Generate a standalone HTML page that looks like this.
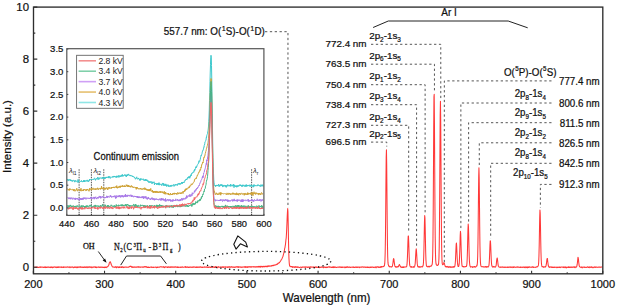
<!DOCTYPE html>
<html><head><meta charset="utf-8"><style>
html,body{margin:0;padding:0;background:#fff;}
body{width:617px;height:307px;overflow:hidden;font-family:"Liberation Sans",sans-serif;}
svg{display:block;}
</style></head><body>
<svg width="617" height="307" viewBox="0 0 617 307">
<rect x="0" y="0" width="617" height="307" fill="#fff"/>
<path d="M34.20,267.25 L34.45,267.09 L34.70,267.24 L34.95,267.26 L35.20,267.39 L35.45,267.24 L35.70,266.96 L35.95,267.11 L36.20,266.98 L36.45,267.14 L36.70,267.11 L36.95,267.16 L37.20,267.54 L37.45,267.02 L37.70,267.09 L37.95,267.09 L38.20,267.55 L38.45,267.56 L38.70,267.38 L38.95,267.29 L39.20,267.13 L39.45,267.20 L39.70,267.09 L39.95,267.33 L40.20,267.13 L40.45,267.11 L40.70,267.33 L40.95,266.84 L41.20,267.08 L41.45,266.94 L41.70,267.32 L41.95,267.35 L42.20,267.27 L42.45,267.22 L42.70,267.06 L42.95,267.14 L43.20,267.29 L43.45,267.39 L43.70,267.30 L43.95,266.94 L44.20,267.36 L44.45,267.14 L44.70,267.10 L44.95,267.50 L45.20,267.18 L45.45,266.92 L45.70,267.61 L45.95,267.26 L46.20,267.22 L46.45,267.36 L46.70,267.09 L46.95,267.21 L47.20,267.50 L47.45,267.02 L47.70,267.05 L47.95,267.00 L48.20,266.89 L48.45,267.12 L48.70,267.17 L48.95,267.46 L49.20,267.07 L49.45,267.32 L49.70,267.29 L49.95,267.46 L50.20,267.39 L50.45,267.30 L50.70,266.92 L50.95,267.62 L51.20,267.50 L51.45,267.14 L51.70,266.89 L51.95,267.07 L52.20,267.59 L52.45,267.72 L52.70,267.12 L52.95,267.35 L53.20,267.43 L53.45,266.99 L53.70,266.96 L53.95,267.16 L54.20,267.14 L54.45,267.10 L54.70,266.86 L54.95,267.06 L55.20,267.08 L55.45,267.08 L55.70,267.52 L55.95,266.93 L56.20,266.99 L56.45,267.08 L56.70,267.60 L56.95,267.32 L57.20,267.02 L57.45,267.57 L57.70,267.23 L57.95,266.98 L58.20,267.47 L58.45,266.86 L58.70,267.08 L58.95,267.22 L59.20,267.12 L59.45,267.06 L59.70,267.17 L59.95,266.95 L60.20,267.33 L60.45,267.28 L60.70,266.98 L60.95,267.19 L61.20,267.38 L61.45,267.00 L61.70,266.89 L61.95,267.28 L62.20,267.48 L62.45,267.22 L62.70,267.22 L62.95,267.25 L63.20,266.90 L63.45,267.41 L63.70,266.93 L63.95,267.46 L64.20,267.36 L64.45,267.06 L64.70,266.96 L64.95,267.01 L65.20,267.12 L65.45,267.16 L65.70,267.16 L65.95,267.07 L66.20,267.23 L66.45,267.13 L66.70,267.07 L66.95,267.19 L67.20,267.03 L67.45,267.07 L67.70,266.77 L67.95,267.12 L68.20,267.28 L68.45,267.27 L68.70,267.19 L68.95,267.00 L69.20,267.26 L69.45,267.11 L69.70,266.81 L69.95,267.73 L70.20,267.43 L70.45,267.14 L70.70,267.11 L70.95,267.14 L71.20,267.28 L71.45,267.06 L71.70,267.13 L71.95,267.30 L72.20,266.69 L72.45,267.12 L72.70,267.31 L72.95,267.21 L73.20,267.24 L73.45,267.20 L73.70,267.76 L73.95,267.29 L74.20,266.98 L74.45,267.43 L74.70,267.21 L74.95,266.99 L75.20,267.01 L75.45,266.88 L75.70,267.55 L75.95,267.26 L76.20,267.26 L76.45,267.06 L76.70,266.96 L76.95,267.75 L77.20,266.96 L77.45,267.49 L77.70,267.05 L77.95,267.50 L78.20,267.15 L78.45,266.94 L78.70,267.22 L78.95,267.15 L79.20,267.03 L79.45,267.16 L79.70,267.21 L79.95,266.87 L80.20,266.97 L80.45,267.25 L80.70,266.62 L80.95,267.43 L81.20,267.00 L81.45,267.25 L81.70,267.16 L81.95,267.04 L82.20,267.14 L82.45,267.06 L82.70,267.51 L82.95,267.50 L83.20,267.06 L83.45,267.39 L83.70,267.40 L83.95,267.50 L84.20,266.93 L84.45,267.04 L84.70,266.88 L84.95,267.39 L85.20,267.19 L85.45,267.43 L85.70,267.03 L85.95,266.86 L86.20,267.37 L86.45,266.86 L86.70,266.98 L86.95,267.23 L87.20,267.60 L87.45,266.90 L87.70,267.21 L87.95,267.31 L88.20,267.11 L88.45,267.10 L88.70,266.88 L88.95,267.40 L89.20,266.95 L89.45,266.88 L89.70,266.89 L89.95,267.23 L90.20,267.34 L90.45,266.98 L90.70,267.16 L90.95,267.16 L91.20,266.89 L91.45,267.24 L91.70,267.67 L91.95,267.27 L92.20,267.57 L92.45,267.02 L92.70,267.12 L92.95,267.31 L93.20,267.19 L93.45,267.01 L93.70,267.17 L93.95,266.91 L94.20,267.20 L94.45,266.97 L94.70,266.88 L94.95,266.85 L95.20,267.33 L95.45,267.00 L95.70,267.58 L95.95,267.41 L96.20,267.59 L96.45,266.96 L96.70,267.44 L96.95,267.19 L97.20,267.22 L97.45,267.19 L97.70,267.31 L97.95,267.13 L98.20,266.81 L98.45,267.17 L98.70,267.07 L98.95,266.97 L99.20,267.22 L99.45,267.44 L99.70,267.30 L99.95,266.96 L100.20,267.52 L100.45,267.30 L100.70,266.97 L100.95,267.01 L101.20,267.18 L101.45,267.01 L101.70,267.14 L101.95,267.42 L102.20,267.50 L102.45,267.31 L102.70,266.98 L102.95,267.29 L103.20,267.36 L103.45,267.33 L103.70,267.49 L103.95,267.19 L104.20,267.41 L104.45,267.09 L104.70,267.65 L104.95,267.09 L105.20,267.29 L105.45,267.55 L105.70,266.99 L105.95,267.20 L106.20,267.59 L106.45,267.30 L106.70,267.04 L106.95,267.16 L107.20,266.85 L107.45,266.76 L107.70,266.62 L107.95,266.46 L108.20,265.90 L108.45,265.56 L108.70,265.00 L108.95,264.82 L109.20,263.45 L109.45,262.65 L109.70,262.42 L109.95,262.13 L110.20,261.62 L110.45,262.69 L110.70,262.79 L110.95,263.09 L111.20,264.54 L111.45,264.91 L111.70,265.27 L111.95,266.18 L112.20,266.39 L112.45,266.56 L112.70,267.10 L112.95,267.03 L113.20,267.00 L113.45,266.93 L113.70,267.12 L113.95,267.17 L114.20,267.35 L114.45,267.22 L114.70,266.96 L114.95,267.13 L115.20,267.33 L115.45,267.33 L115.70,266.60 L115.95,266.92 L116.20,267.03 L116.45,267.70 L116.70,267.04 L116.95,267.07 L117.20,266.82 L117.45,267.08 L117.70,267.18 L117.95,267.06 L118.20,267.58 L118.45,266.96 L118.70,267.11 L118.95,267.32 L119.20,266.90 L119.45,266.80 L119.70,267.47 L119.95,267.31 L120.20,267.12 L120.45,267.14 L120.70,267.26 L120.95,267.38 L121.20,266.74 L121.45,266.96 L121.70,267.43 L121.95,267.46 L122.20,266.82 L122.45,266.97 L122.70,266.80 L122.95,267.01 L123.20,267.36 L123.45,267.12 L123.70,267.63 L123.95,267.33 L124.20,267.19 L124.45,267.07 L124.70,267.33 L124.95,267.20 L125.20,267.08 L125.45,267.10 L125.70,267.04 L125.95,267.13 L126.20,267.24 L126.45,267.01 L126.70,267.16 L126.95,267.34 L127.20,267.30 L127.45,267.17 L127.70,267.19 L127.95,267.12 L128.20,267.14 L128.45,267.07 L128.70,267.09 L128.95,267.24 L129.20,266.77 L129.45,266.48 L129.70,266.44 L129.95,266.39 L130.20,266.12 L130.45,266.35 L130.70,266.56 L130.95,266.26 L131.20,266.63 L131.45,266.46 L131.70,267.01 L131.95,267.47 L132.20,267.24 L132.45,266.76 L132.70,267.21 L132.95,267.43 L133.20,267.32 L133.45,267.06 L133.70,267.07 L133.95,267.13 L134.20,266.86 L134.45,267.03 L134.70,267.18 L134.95,267.05 L135.20,266.83 L135.45,266.98 L135.70,266.96 L135.95,267.40 L136.20,267.21 L136.45,267.03 L136.70,267.24 L136.95,266.96 L137.20,267.05 L137.45,266.99 L137.70,267.22 L137.95,266.65 L138.20,266.92 L138.45,267.22 L138.70,267.16 L138.95,266.64 L139.20,267.25 L139.45,267.00 L139.70,266.97 L139.95,267.18 L140.20,267.42 L140.45,267.14 L140.70,267.10 L140.95,266.94 L141.20,267.01 L141.45,267.17 L141.70,266.99 L141.95,267.06 L142.20,267.12 L142.45,267.14 L142.70,267.18 L142.95,266.96 L143.20,267.27 L143.45,267.10 L143.70,266.87 L143.95,267.07 L144.20,266.75 L144.45,266.99 L144.70,266.67 L144.95,266.43 L145.20,266.50 L145.45,266.73 L145.70,266.88 L145.95,267.23 L146.20,266.64 L146.45,266.98 L146.70,266.90 L146.95,267.33 L147.20,267.20 L147.45,267.55 L147.70,267.01 L147.95,266.98 L148.20,267.57 L148.45,267.18 L148.70,267.04 L148.95,267.54 L149.20,267.56 L149.45,267.40 L149.70,267.31 L149.95,267.47 L150.20,267.17 L150.45,267.12 L150.70,267.04 L150.95,267.03 L151.20,266.86 L151.45,266.93 L151.70,267.45 L151.95,267.28 L152.20,267.40 L152.45,267.40 L152.70,267.19 L152.95,267.18 L153.20,267.07 L153.45,267.51 L153.70,267.43 L153.95,267.18 L154.20,267.22 L154.45,267.24 L154.70,267.19 L154.95,267.33 L155.20,267.03 L155.45,267.10 L155.70,267.19 L155.95,267.31 L156.20,267.21 L156.45,267.74 L156.70,267.38 L156.95,267.17 L157.20,267.49 L157.45,267.13 L157.70,267.14 L157.95,267.46 L158.20,267.22 L158.45,267.23 L158.70,267.06 L158.95,267.02 L159.20,267.13 L159.45,267.27 L159.70,267.07 L159.95,266.99 L160.20,266.73 L160.45,266.74 L160.70,266.87 L160.95,266.95 L161.20,266.74 L161.45,266.85 L161.70,267.00 L161.95,266.88 L162.20,267.05 L162.45,267.00 L162.70,266.97 L162.95,267.20 L163.20,266.66 L163.45,267.22 L163.70,266.93 L163.95,267.14 L164.20,266.94 L164.45,267.66 L164.70,267.33 L164.95,267.12 L165.20,267.05 L165.45,266.68 L165.70,267.10 L165.95,266.90 L166.20,267.01 L166.45,266.97 L166.70,267.07 L166.95,267.20 L167.20,267.07 L167.45,267.40 L167.70,266.93 L167.95,267.38 L168.20,267.12 L168.45,266.73 L168.70,267.22 L168.95,267.17 L169.20,266.93 L169.45,267.17 L169.70,267.34 L169.95,267.12 L170.20,267.05 L170.45,267.02 L170.70,267.33 L170.95,266.81 L171.20,266.82 L171.45,267.17 L171.70,267.11 L171.95,267.26 L172.20,266.88 L172.45,267.32 L172.70,267.03 L172.95,267.27 L173.20,267.31 L173.45,267.02 L173.70,266.89 L173.95,267.17 L174.20,267.31 L174.45,267.00 L174.70,267.18 L174.95,267.10 L175.20,266.85 L175.45,266.93 L175.70,267.28 L175.95,266.69 L176.20,267.17 L176.45,267.00 L176.70,267.30 L176.95,267.18 L177.20,267.53 L177.45,266.80 L177.70,266.88 L177.95,267.42 L178.20,267.48 L178.45,267.50 L178.70,266.92 L178.95,267.26 L179.20,267.18 L179.45,267.23 L179.70,267.19 L179.95,267.39 L180.20,267.16 L180.45,267.47 L180.70,267.18 L180.95,267.10 L181.20,267.07 L181.45,267.21 L181.70,267.35 L181.95,267.13 L182.20,267.27 L182.45,266.84 L182.70,267.01 L182.95,267.19 L183.20,267.26 L183.45,267.31 L183.70,267.36 L183.95,267.24 L184.20,267.10 L184.45,267.06 L184.70,267.05 L184.95,266.73 L185.20,267.31 L185.45,267.16 L185.70,266.58 L185.95,267.55 L186.20,267.27 L186.45,267.13 L186.70,267.13 L186.95,267.08 L187.20,267.21 L187.45,267.09 L187.70,267.15 L187.95,267.00 L188.20,267.55 L188.45,267.34 L188.70,267.16 L188.95,267.38 L189.20,267.38 L189.45,267.03 L189.70,267.30 L189.95,267.03 L190.20,267.00 L190.45,267.10 L190.70,267.05 L190.95,267.18 L191.20,267.45 L191.45,267.16 L191.70,267.06 L191.95,267.27 L192.20,267.18 L192.45,267.00 L192.70,267.34 L192.95,267.02 L193.20,266.77 L193.45,267.27 L193.70,267.13 L193.95,267.19 L194.20,266.84 L194.45,267.09 L194.70,266.97 L194.95,267.30 L195.20,267.16 L195.45,267.16 L195.70,267.52 L195.95,266.85 L196.20,266.97 L196.45,267.52 L196.70,267.00 L196.95,267.18 L197.20,267.06 L197.45,267.08 L197.70,267.46 L197.95,267.20 L198.20,266.84 L198.45,267.27 L198.70,267.36 L198.95,267.43 L199.20,267.40 L199.45,267.08 L199.70,266.80 L199.95,267.06 L200.20,267.10 L200.45,266.68 L200.70,267.26 L200.95,267.29 L201.20,267.04 L201.45,267.03 L201.70,267.36 L201.95,267.39 L202.20,267.09 L202.45,267.10 L202.70,267.42 L202.95,267.19 L203.20,267.26 L203.45,267.05 L203.70,267.17 L203.95,267.16 L204.20,267.22 L204.45,266.93 L204.70,266.85 L204.95,267.22 L205.20,266.97 L205.45,267.30 L205.70,267.13 L205.95,266.99 L206.20,266.83 L206.45,267.22 L206.70,267.16 L206.95,267.10 L207.20,267.45 L207.45,267.14 L207.70,267.28 L207.95,267.06 L208.20,267.37 L208.45,267.55 L208.70,267.13 L208.95,267.08 L209.20,267.25 L209.45,266.95 L209.70,267.19 L209.95,267.26 L210.20,267.04 L210.45,267.46 L210.70,267.28 L210.95,267.14 L211.20,266.96 L211.45,267.17 L211.70,267.07 L211.95,267.27 L212.20,267.07 L212.45,266.79 L212.70,267.27 L212.95,266.64 L213.20,267.26 L213.45,267.13 L213.70,267.09 L213.95,266.92 L214.20,267.39 L214.45,267.57 L214.70,267.00 L214.95,266.96 L215.20,267.00 L215.45,266.58 L215.70,267.08 L215.95,267.07 L216.20,266.93 L216.45,267.05 L216.70,266.78 L216.95,267.38 L217.20,267.20 L217.45,267.84 L217.70,266.95 L217.95,267.20 L218.20,266.93 L218.45,266.67 L218.70,267.12 L218.95,267.17 L219.20,267.22 L219.45,267.29 L219.70,267.25 L219.95,266.98 L220.20,267.11 L220.45,267.10 L220.70,267.15 L220.95,266.92 L221.20,267.01 L221.45,267.14 L221.70,266.97 L221.95,267.14 L222.20,267.35 L222.45,266.81 L222.70,267.01 L222.95,267.31 L223.20,266.88 L223.45,267.03 L223.70,267.43 L223.95,266.77 L224.20,267.04 L224.45,266.92 L224.70,267.06 L224.95,267.13 L225.20,267.42 L225.45,266.90 L225.70,267.09 L225.95,267.16 L226.20,267.03 L226.45,267.08 L226.70,266.96 L226.95,267.17 L227.20,267.10 L227.45,267.54 L227.70,267.18 L227.95,266.95 L228.20,266.81 L228.45,267.17 L228.70,267.11 L228.95,266.76 L229.20,267.16 L229.45,266.93 L229.70,266.74 L229.95,267.08 L230.20,266.83 L230.45,267.23 L230.70,267.04 L230.95,267.10 L231.20,267.06 L231.45,266.84 L231.70,266.58 L231.95,267.21 L232.20,267.19 L232.45,266.97 L232.70,267.29 L232.95,266.97 L233.20,266.95 L233.45,267.13 L233.70,266.96 L233.95,267.39 L234.20,266.91 L234.45,267.39 L234.70,267.21 L234.95,267.18 L235.20,267.14 L235.45,266.88 L235.70,267.04 L235.95,267.14 L236.20,266.94 L236.45,266.72 L236.70,267.05 L236.95,266.97 L237.20,266.79 L237.45,266.99 L237.70,267.31 L237.95,266.53 L238.20,266.58 L238.45,267.45 L238.70,267.05 L238.95,266.95 L239.20,266.84 L239.45,266.90 L239.70,267.09 L239.95,267.25 L240.20,267.01 L240.45,266.81 L240.70,267.25 L240.95,267.24 L241.20,267.03 L241.45,267.42 L241.70,267.07 L241.95,267.11 L242.20,266.92 L242.45,267.16 L242.70,267.19 L242.95,267.09 L243.20,267.02 L243.45,267.14 L243.70,267.00 L243.95,266.84 L244.20,266.75 L244.45,266.64 L244.70,267.16 L244.95,267.08 L245.20,267.50 L245.45,266.59 L245.70,267.13 L245.95,266.99 L246.20,266.87 L246.45,267.26 L246.70,266.88 L246.95,266.97 L247.20,267.35 L247.45,266.90 L247.70,266.71 L247.95,267.35 L248.20,266.79 L248.45,266.91 L248.70,266.85 L248.95,266.85 L249.20,266.67 L249.45,266.98 L249.70,266.75 L249.95,267.02 L250.20,266.78 L250.45,267.09 L250.70,266.94 L250.95,266.56 L251.20,266.82 L251.45,266.94 L251.70,267.14 L251.95,267.07 L252.20,266.86 L252.45,266.70 L252.70,266.80 L252.95,266.77 L253.20,266.89 L253.45,266.59 L253.70,266.95 L253.95,266.98 L254.20,266.67 L254.45,266.84 L254.70,266.91 L254.95,266.96 L255.20,266.89 L255.45,266.70 L255.70,266.75 L255.95,267.07 L256.20,266.73 L256.45,266.77 L256.70,267.01 L256.95,266.64 L257.20,266.85 L257.45,266.85 L257.70,266.61 L257.95,266.49 L258.20,266.91 L258.45,266.66 L258.70,266.93 L258.95,266.26 L259.20,266.83 L259.45,266.47 L259.70,266.85 L259.95,266.54 L260.20,266.24 L260.45,267.22 L260.70,266.77 L260.95,266.57 L261.20,266.68 L261.45,266.79 L261.70,266.19 L261.95,266.61 L262.20,266.96 L262.45,266.43 L262.70,266.95 L262.95,266.34 L263.20,266.69 L263.45,266.53 L263.70,266.28 L263.95,266.51 L264.20,266.81 L264.45,266.85 L264.70,266.24 L264.95,266.32 L265.20,266.63 L265.45,266.26 L265.70,266.32 L265.95,266.27 L266.20,266.86 L266.45,266.43 L266.70,266.16 L266.95,266.18 L267.20,266.12 L267.45,266.80 L267.70,266.23 L267.95,266.14 L268.20,265.69 L268.45,266.39 L268.70,266.23 L268.95,266.13 L269.20,265.93 L269.45,266.17 L269.70,265.81 L269.95,266.19 L270.20,265.93 L270.45,266.06 L270.70,265.89 L270.95,266.03 L271.20,266.18 L271.45,265.58 L271.70,265.70 L271.95,265.83 L272.20,265.63 L272.45,265.42 L272.70,265.78 L272.95,265.54 L273.20,265.35 L273.45,265.30 L273.70,265.42 L273.95,265.72 L274.20,264.96 L274.45,265.08 L274.70,265.07 L274.95,265.05 L275.20,264.86 L275.45,264.91 L275.70,264.94 L275.95,264.79 L276.20,264.65 L276.45,264.55 L276.70,264.55 L276.95,264.05 L277.20,264.32 L277.45,263.77 L277.70,263.97 L277.95,263.53 L278.20,263.15 L278.45,263.21 L278.70,263.21 L278.95,262.84 L279.20,262.60 L279.45,262.75 L279.70,262.26 L279.95,261.83 L280.20,261.66 L280.45,261.22 L280.70,260.74 L280.95,260.35 L281.20,259.91 L281.45,259.54 L281.70,259.24 L281.95,258.66 L282.20,258.14 L282.45,257.52 L282.70,256.81 L282.95,256.40 L283.20,255.30 L283.45,254.35 L283.70,253.59 L283.95,252.35 L284.20,251.10 L284.45,250.02 L284.70,248.23 L284.95,247.79 L285.20,245.78 L285.45,244.48 L285.70,242.09 L285.95,239.63 L286.20,238.04 L286.45,233.92 L286.70,229.08 L286.95,223.35 L287.20,216.79 L287.45,211.92 L287.70,208.57 L287.95,212.15 L288.20,223.91 L288.45,238.21 L288.70,250.00 L288.95,258.29 L289.20,262.58 L289.45,264.84 L289.70,266.12 L289.95,266.08 L290.20,266.27 L290.45,266.31 L290.70,266.76 L290.95,266.67 L291.20,266.61 L291.45,266.77 L291.70,266.59 L291.95,266.47 L292.20,267.11 L292.45,267.35 L292.70,266.79 L292.95,266.67 L293.20,266.82 L293.45,266.86 L293.70,267.17 L293.95,267.20 L294.20,266.88 L294.45,267.26 L294.70,267.46 L294.95,267.30 L295.20,266.58 L295.45,266.70 L295.70,267.25 L295.95,267.27 L296.20,267.07 L296.45,267.28 L296.70,266.86 L296.95,267.15 L297.20,267.36 L297.45,266.87 L297.70,267.26 L297.95,267.10 L298.20,267.15 L298.45,267.22 L298.70,267.08 L298.95,267.30 L299.20,267.54 L299.45,267.62 L299.70,267.42 L299.95,267.32 L300.20,267.17 L300.45,267.15 L300.70,267.05 L300.95,267.14 L301.20,267.33 L301.45,267.32 L301.70,267.61 L301.95,267.21 L302.20,267.07 L302.45,267.06 L302.70,267.20 L302.95,267.21 L303.20,266.98 L303.45,267.17 L303.70,267.02 L303.95,267.06 L304.20,267.13 L304.45,266.91 L304.70,267.30 L304.95,267.26 L305.20,267.35 L305.45,267.35 L305.70,266.86 L305.95,266.82 L306.20,267.18 L306.45,267.07 L306.70,266.94 L306.95,267.02 L307.20,266.93 L307.45,267.45 L307.70,267.32 L307.95,267.09 L308.20,266.89 L308.45,267.17 L308.70,267.37 L308.95,267.26 L309.20,267.33 L309.45,267.37 L309.70,266.88 L309.95,267.32 L310.20,267.18 L310.45,266.74 L310.70,266.94 L310.95,267.12 L311.20,267.32 L311.45,267.10 L311.70,266.85 L311.95,267.06 L312.20,266.93 L312.45,267.17 L312.70,267.08 L312.95,267.23 L313.20,267.10 L313.45,266.92 L313.70,267.49 L313.95,267.20 L314.20,267.14 L314.45,267.31 L314.70,267.26 L314.95,267.03 L315.20,266.78 L315.45,267.06 L315.70,267.12 L315.95,267.52 L316.20,266.79 L316.45,267.18 L316.70,267.20 L316.95,267.43 L317.20,267.21 L317.45,267.42 L317.70,267.18 L317.95,267.10 L318.20,267.19 L318.45,267.14 L318.70,267.37 L318.95,266.90 L319.20,267.33 L319.45,267.57 L319.70,267.23 L319.95,267.35 L320.20,267.40 L320.45,267.27 L320.70,267.13 L320.95,267.44 L321.20,267.22 L321.45,266.90 L321.70,267.05 L321.95,267.23 L322.20,267.17 L322.45,267.22 L322.70,267.21 L322.95,267.04 L323.20,267.21 L323.45,267.70 L323.70,267.20 L323.95,267.38 L324.20,267.06 L324.45,267.32 L324.70,267.16 L324.95,266.74 L325.20,267.41 L325.45,267.43 L325.70,267.49 L325.95,267.69 L326.20,267.59 L326.45,267.12 L326.70,267.33 L326.95,267.58 L327.20,267.50 L327.45,267.07 L327.70,267.36 L327.95,267.27 L328.20,267.13 L328.45,266.91 L328.70,266.79 L328.95,266.98 L329.20,267.17 L329.45,267.16 L329.70,266.82 L329.95,266.90 L330.20,267.26 L330.45,267.10 L330.70,267.14 L330.95,267.19 L331.20,267.30 L331.45,267.47 L331.70,267.31 L331.95,267.52 L332.20,266.94 L332.45,267.09 L332.70,267.45 L332.95,266.91 L333.20,267.01 L333.45,267.59 L333.70,266.81 L333.95,267.03 L334.20,266.77 L334.45,267.45 L334.70,267.09 L334.95,267.11 L335.20,267.16 L335.45,267.16 L335.70,266.98 L335.95,267.51 L336.20,267.46 L336.45,267.49 L336.70,267.31 L336.95,267.32 L337.20,267.12 L337.45,267.14 L337.70,267.19 L337.95,267.34 L338.20,267.29 L338.45,267.00 L338.70,267.04 L338.95,267.18 L339.20,267.26 L339.45,266.87 L339.70,267.32 L339.95,267.06 L340.20,266.96 L340.45,267.25 L340.70,267.03 L340.95,267.43 L341.20,266.99 L341.45,267.16 L341.70,267.53 L341.95,267.06 L342.20,267.38 L342.45,266.93 L342.70,267.34 L342.95,267.23 L343.20,267.14 L343.45,267.27 L343.70,267.14 L343.95,267.31 L344.20,267.06 L344.45,267.20 L344.70,267.15 L344.95,267.77 L345.20,266.96 L345.45,267.19 L345.70,267.57 L345.95,267.18 L346.20,267.10 L346.45,266.98 L346.70,267.42 L346.95,266.88 L347.20,267.23 L347.45,266.70 L347.70,267.23 L347.95,267.06 L348.20,267.27 L348.45,267.43 L348.70,266.97 L348.95,267.01 L349.20,266.88 L349.45,267.02 L349.70,267.32 L349.95,267.54 L350.20,267.33 L350.45,267.34 L350.70,267.37 L350.95,267.08 L351.20,267.13 L351.45,267.25 L351.70,267.16 L351.95,267.23 L352.20,267.15 L352.45,267.04 L352.70,267.00 L352.95,267.34 L353.20,267.51 L353.45,266.90 L353.70,267.17 L353.95,266.97 L354.20,267.54 L354.45,267.27 L354.70,267.19 L354.95,267.50 L355.20,267.31 L355.45,267.05 L355.70,266.97 L355.95,266.87 L356.20,267.38 L356.45,267.49 L356.70,267.09 L356.95,267.00 L357.20,267.16 L357.45,267.47 L357.70,267.04 L357.95,267.03 L358.20,267.08 L358.45,267.30 L358.70,267.14 L358.95,267.03 L359.20,267.32 L359.45,267.58 L359.70,267.13 L359.95,267.10 L360.20,267.20 L360.45,267.01 L360.70,267.32 L360.95,267.22 L361.20,267.26 L361.45,267.07 L361.70,266.86 L361.95,267.24 L362.20,266.76 L362.45,266.87 L362.70,267.02 L362.95,267.07 L363.20,266.82 L363.45,267.22 L363.70,267.21 L363.95,267.41 L364.20,267.09 L364.45,266.91 L364.70,267.07 L364.95,267.10 L365.20,267.23 L365.45,267.15 L365.70,267.48 L365.95,266.97 L366.20,267.27 L366.45,267.41 L366.70,267.34 L366.95,267.35 L367.20,267.00 L367.45,266.96 L367.70,267.46 L367.95,266.99 L368.20,266.99 L368.45,267.30 L368.70,267.49 L368.95,267.33 L369.20,267.31 L369.45,267.10 L369.70,267.25 L369.95,267.60 L370.20,267.13 L370.45,267.49 L370.70,266.98 L370.95,267.42 L371.20,267.31 L371.45,267.35 L371.70,267.28 L371.95,266.90 L372.20,266.99 L372.45,267.04 L372.70,267.10 L372.95,267.48 L373.20,267.27 L373.45,267.27 L373.70,267.36 L373.95,267.05 L374.20,267.31 L374.45,267.30 L374.70,267.37 L374.95,267.58 L375.20,267.02 L375.45,266.87 L375.70,267.11 L375.95,267.34 L376.20,267.70 L376.45,267.10 L376.70,266.88 L376.95,267.06 L377.20,266.93 L377.45,266.81 L377.70,266.88 L377.95,267.20 L378.20,266.88 L378.45,266.93 L378.70,267.41 L378.95,267.17 L379.20,267.37 L379.45,267.09 L379.70,266.93 L379.95,267.27 L380.20,267.46 L380.45,266.75 L380.70,266.92 L380.95,266.68 L381.20,267.24 L381.45,266.72 L381.70,266.48 L381.95,266.46 L382.20,266.88 L382.45,266.74 L382.70,266.77 L382.95,266.47 L383.20,266.38 L383.45,266.47 L383.70,266.64 L383.95,266.03 L384.20,266.01 L384.45,265.24 L384.70,263.96 L384.95,260.16 L385.20,252.09 L385.45,236.50 L385.70,211.42 L385.95,181.17 L386.20,156.93 L386.45,149.69 L386.70,164.45 L386.95,192.64 L387.20,221.74 L387.45,243.76 L387.70,256.42 L387.95,262.15 L388.20,264.59 L388.45,265.08 L388.70,266.20 L388.95,266.00 L389.20,266.23 L389.45,266.85 L389.70,266.77 L389.95,266.63 L390.20,266.82 L390.45,266.80 L390.70,266.70 L390.95,267.00 L391.20,266.75 L391.45,266.98 L391.70,266.95 L391.95,266.65 L392.20,266.65 L392.45,265.91 L392.70,264.51 L392.95,263.06 L393.20,260.93 L393.45,258.92 L393.70,258.58 L393.95,259.31 L394.20,261.84 L394.45,263.57 L394.70,265.42 L394.95,266.43 L395.20,266.35 L395.45,267.09 L395.70,266.62 L395.95,266.88 L396.20,266.74 L396.45,267.25 L396.70,266.81 L396.95,266.76 L397.20,267.09 L397.45,267.09 L397.70,266.52 L397.95,266.92 L398.20,266.86 L398.45,266.56 L398.70,265.81 L398.95,265.24 L399.20,264.83 L399.45,264.45 L399.70,265.24 L399.95,265.65 L400.20,266.01 L400.45,266.92 L400.70,266.71 L400.95,266.65 L401.20,267.35 L401.45,267.32 L401.70,267.31 L401.95,267.48 L402.20,267.00 L402.45,267.48 L402.70,266.99 L402.95,266.79 L403.20,267.42 L403.45,267.15 L403.70,267.47 L403.95,266.90 L404.20,267.21 L404.45,267.10 L404.70,267.02 L404.95,266.90 L405.20,267.06 L405.45,266.95 L405.70,267.03 L405.95,266.84 L406.20,267.02 L406.45,266.57 L406.70,266.48 L406.95,264.92 L407.20,261.62 L407.45,256.87 L407.70,249.71 L407.95,241.27 L408.20,235.92 L408.45,236.03 L408.70,241.40 L408.95,249.21 L409.20,256.73 L409.45,261.97 L409.70,264.97 L409.95,266.27 L410.20,266.27 L410.45,266.69 L410.70,267.03 L410.95,267.32 L411.20,267.20 L411.45,266.43 L411.70,267.20 L411.95,266.99 L412.20,266.94 L412.45,267.02 L412.70,267.05 L412.95,267.27 L413.20,267.20 L413.45,266.61 L413.70,267.10 L413.95,266.74 L414.20,267.20 L414.45,266.75 L414.70,266.23 L414.95,265.07 L415.20,263.46 L415.45,259.63 L415.70,255.15 L415.95,251.12 L416.20,248.80 L416.45,250.44 L416.70,254.38 L416.95,258.83 L417.20,263.13 L417.45,264.94 L417.70,266.31 L417.95,266.90 L418.20,266.88 L418.45,266.70 L418.70,266.98 L418.95,266.65 L419.20,267.16 L419.45,267.20 L419.70,266.61 L419.95,266.84 L420.20,266.72 L420.45,267.08 L420.70,266.73 L420.95,266.82 L421.20,266.72 L421.45,266.81 L421.70,266.53 L421.95,266.86 L422.20,266.86 L422.45,266.87 L422.70,266.15 L422.95,266.16 L423.20,265.22 L423.45,262.71 L423.70,257.31 L423.95,248.28 L424.20,235.47 L424.45,222.85 L424.70,215.52 L424.95,217.86 L425.20,228.08 L425.45,241.42 L425.70,252.59 L425.95,259.93 L426.20,263.75 L426.45,265.94 L426.70,266.24 L426.95,266.54 L427.20,266.32 L427.45,266.87 L427.70,266.73 L427.95,266.67 L428.20,266.69 L428.45,266.42 L428.70,266.71 L428.95,266.40 L429.20,266.89 L429.45,266.93 L429.70,266.26 L429.95,266.37 L430.20,266.29 L430.45,266.29 L430.70,266.11 L430.95,266.34 L431.20,265.73 L431.45,265.83 L431.70,265.23 L431.95,264.94 L432.20,264.37 L432.45,261.68 L432.70,254.68 L432.95,240.39 L433.20,213.45 L433.45,173.44 L433.70,129.03 L433.95,96.91 L434.20,94.25 L434.45,122.87 L434.70,166.50 L434.95,208.10 L435.20,236.71 L435.45,252.84 L435.70,260.20 L435.95,263.22 L436.20,264.50 L436.45,264.95 L436.70,265.24 L436.95,265.48 L437.20,265.40 L437.45,265.51 L437.70,264.97 L437.95,265.05 L438.20,264.96 L438.45,264.63 L438.70,262.57 L438.95,258.21 L439.20,247.80 L439.45,226.80 L439.70,193.34 L439.95,150.97 L440.20,114.89 L440.45,101.35 L440.70,119.97 L440.95,158.49 L441.20,199.31 L441.45,231.21 L441.70,250.17 L441.95,259.50 L442.20,263.34 L442.45,264.29 L442.70,264.82 L442.95,264.61 L443.20,264.59 L443.45,263.78 L443.70,263.25 L443.95,262.54 L444.20,263.36 L444.45,263.81 L444.70,264.69 L444.95,265.44 L445.20,266.45 L445.45,266.32 L445.70,266.83 L445.95,266.91 L446.20,267.07 L446.45,266.59 L446.70,266.51 L446.95,267.00 L447.20,267.05 L447.45,266.98 L447.70,266.40 L447.95,266.73 L448.20,267.06 L448.45,267.33 L448.70,267.11 L448.95,266.73 L449.20,266.59 L449.45,267.04 L449.70,267.14 L449.95,267.11 L450.20,267.40 L450.45,266.82 L450.70,267.23 L450.95,266.79 L451.20,267.36 L451.45,267.27 L451.70,266.94 L451.95,267.16 L452.20,266.83 L452.45,266.98 L452.70,267.22 L452.95,266.83 L453.20,266.77 L453.45,267.32 L453.70,266.51 L453.95,266.74 L454.20,266.63 L454.45,267.05 L454.70,266.49 L454.95,265.61 L455.20,263.47 L455.45,260.50 L455.70,255.07 L455.95,249.14 L456.20,244.00 L456.45,242.97 L456.70,246.90 L456.95,252.59 L457.20,258.16 L457.45,262.13 L457.70,264.69 L457.95,265.97 L458.20,266.53 L458.45,266.54 L458.70,266.27 L458.95,265.41 L459.20,263.69 L459.45,259.56 L459.70,253.37 L459.95,244.93 L460.20,235.83 L460.45,231.36 L460.70,233.57 L460.95,241.16 L461.20,250.47 L461.45,257.86 L461.70,262.32 L461.95,265.18 L462.20,266.36 L462.45,266.46 L462.70,266.61 L462.95,266.62 L463.20,266.65 L463.45,266.53 L463.70,267.02 L463.95,266.65 L464.20,267.07 L464.45,266.71 L464.70,266.81 L464.95,266.79 L465.20,266.61 L465.45,266.79 L465.70,266.51 L465.95,266.48 L466.20,266.50 L466.45,266.32 L466.70,265.50 L466.95,263.33 L467.20,258.77 L467.45,250.98 L467.70,239.83 L467.95,229.86 L468.20,224.02 L468.45,226.53 L468.70,235.33 L468.95,246.23 L469.20,255.40 L469.45,261.66 L469.70,264.21 L469.95,266.01 L470.20,266.19 L470.45,267.11 L470.70,266.72 L470.95,266.72 L471.20,266.78 L471.45,266.73 L471.70,266.82 L471.95,266.86 L472.20,267.30 L472.45,267.07 L472.70,267.41 L472.95,266.79 L473.20,266.86 L473.45,266.95 L473.70,267.08 L473.95,267.01 L474.20,266.49 L474.45,266.49 L474.70,266.84 L474.95,266.53 L475.20,267.08 L475.45,267.11 L475.70,266.74 L475.95,266.74 L476.20,266.57 L476.45,266.28 L476.70,265.48 L476.95,265.84 L477.20,264.69 L477.45,262.03 L477.70,255.89 L477.95,243.28 L478.20,223.06 L478.45,198.60 L478.70,176.22 L478.95,167.88 L479.20,178.05 L479.45,201.35 L479.70,226.25 L479.95,245.64 L480.20,256.69 L480.45,262.46 L480.70,264.85 L480.95,266.26 L481.20,266.23 L481.45,266.51 L481.70,266.78 L481.95,266.78 L482.20,266.52 L482.45,266.62 L482.70,266.79 L482.95,266.72 L483.20,266.99 L483.45,266.88 L483.70,266.91 L483.95,266.82 L484.20,266.97 L484.45,267.00 L484.70,267.01 L484.95,267.12 L485.20,266.53 L485.45,266.89 L485.70,266.91 L485.95,266.53 L486.20,266.71 L486.45,267.32 L486.70,266.85 L486.95,266.81 L487.20,266.57 L487.45,266.67 L487.70,266.76 L487.95,267.12 L488.20,266.98 L488.45,266.59 L488.70,266.12 L488.95,265.38 L489.20,262.89 L489.45,258.60 L489.70,252.26 L489.95,245.39 L490.20,240.82 L490.45,241.01 L490.70,245.17 L490.95,251.91 L491.20,258.52 L491.45,262.59 L491.70,265.08 L491.95,266.10 L492.20,266.56 L492.45,266.98 L492.70,266.78 L492.95,266.73 L493.20,267.16 L493.45,266.59 L493.70,266.58 L493.95,266.64 L494.20,266.61 L494.45,266.87 L494.70,267.10 L494.95,267.14 L495.20,267.15 L495.45,266.86 L495.70,266.63 L495.95,265.87 L496.20,265.22 L496.45,262.41 L496.70,260.11 L496.95,258.66 L497.20,257.93 L497.45,259.09 L497.70,261.30 L497.95,263.65 L498.20,265.32 L498.45,266.47 L498.70,266.74 L498.95,266.97 L499.20,266.98 L499.45,267.26 L499.70,267.09 L499.95,267.10 L500.20,267.00 L500.45,267.35 L500.70,267.05 L500.95,266.94 L501.20,267.02 L501.45,267.23 L501.70,267.26 L501.95,267.21 L502.20,267.01 L502.45,266.84 L502.70,267.20 L502.95,267.30 L503.20,267.09 L503.45,267.13 L503.70,267.36 L503.95,267.33 L504.20,267.20 L504.45,267.04 L504.70,267.43 L504.95,267.40 L505.20,267.08 L505.45,267.44 L505.70,267.16 L505.95,267.11 L506.20,267.21 L506.45,267.40 L506.70,267.20 L506.95,267.26 L507.20,267.12 L507.45,267.36 L507.70,266.96 L507.95,267.54 L508.20,267.23 L508.45,267.19 L508.70,266.99 L508.95,267.32 L509.20,267.08 L509.45,267.31 L509.70,267.04 L509.95,266.83 L510.20,267.28 L510.45,267.10 L510.70,267.39 L510.95,266.99 L511.20,266.94 L511.45,267.19 L511.70,267.43 L511.95,267.11 L512.20,266.96 L512.45,266.97 L512.70,267.03 L512.95,267.58 L513.20,267.34 L513.45,266.90 L513.70,267.45 L513.95,266.96 L514.20,266.80 L514.45,267.04 L514.70,266.96 L514.95,267.27 L515.20,267.45 L515.45,267.21 L515.70,267.23 L515.95,267.20 L516.20,267.05 L516.45,267.22 L516.70,267.15 L516.95,267.10 L517.20,267.19 L517.45,266.81 L517.70,267.10 L517.95,267.17 L518.20,267.24 L518.45,267.32 L518.70,266.91 L518.95,267.16 L519.20,267.42 L519.45,267.31 L519.70,267.22 L519.95,267.28 L520.20,266.97 L520.45,267.43 L520.70,267.09 L520.95,267.16 L521.20,267.44 L521.45,267.18 L521.70,267.21 L521.95,267.09 L522.20,267.28 L522.45,267.13 L522.70,267.54 L522.95,267.41 L523.20,267.02 L523.45,266.97 L523.70,267.19 L523.95,267.31 L524.20,266.96 L524.45,267.62 L524.70,267.35 L524.95,267.05 L525.20,267.05 L525.45,267.40 L525.70,267.58 L525.95,266.88 L526.20,267.15 L526.45,267.37 L526.70,267.17 L526.95,266.99 L527.20,267.72 L527.45,266.95 L527.70,267.02 L527.95,267.61 L528.20,267.02 L528.45,267.55 L528.70,266.94 L528.95,267.09 L529.20,266.70 L529.45,267.30 L529.70,267.17 L529.95,266.95 L530.20,267.30 L530.45,267.31 L530.70,267.24 L530.95,267.18 L531.20,267.38 L531.45,267.05 L531.70,267.04 L531.95,267.13 L532.20,266.79 L532.45,267.21 L532.70,266.87 L532.95,267.25 L533.20,266.97 L533.45,267.53 L533.70,267.08 L533.95,267.15 L534.20,267.21 L534.45,267.22 L534.70,267.16 L534.95,267.23 L535.20,267.52 L535.45,267.17 L535.70,267.15 L535.95,267.12 L536.20,267.21 L536.45,266.98 L536.70,266.76 L536.95,266.93 L537.20,266.92 L537.45,266.46 L537.70,266.43 L537.95,266.25 L538.20,265.76 L538.45,264.92 L538.70,262.04 L538.95,255.79 L539.20,245.80 L539.45,231.69 L539.70,217.68 L539.95,209.95 L540.20,213.00 L540.45,224.51 L540.70,239.38 L540.95,251.53 L541.20,259.44 L541.45,263.66 L541.70,265.43 L541.95,266.52 L542.20,266.82 L542.45,266.81 L542.70,266.67 L542.95,266.52 L543.20,267.13 L543.45,266.85 L543.70,267.12 L543.95,267.11 L544.20,267.03 L544.45,266.84 L544.70,266.94 L544.95,266.74 L545.20,267.16 L545.45,266.70 L545.70,266.48 L545.95,266.13 L546.20,264.98 L546.45,263.45 L546.70,261.34 L546.95,259.20 L547.20,258.43 L547.45,258.54 L547.70,261.26 L547.95,263.04 L548.20,265.09 L548.45,266.13 L548.70,266.57 L548.95,267.11 L549.20,266.85 L549.45,267.00 L549.70,267.41 L549.95,266.98 L550.20,267.00 L550.45,267.03 L550.70,266.80 L550.95,267.23 L551.20,267.04 L551.45,266.99 L551.70,267.34 L551.95,266.91 L552.20,267.46 L552.45,267.43 L552.70,267.06 L552.95,267.39 L553.20,267.19 L553.45,267.51 L553.70,267.16 L553.95,267.41 L554.20,267.10 L554.45,267.49 L554.70,267.08 L554.95,267.23 L555.20,267.16 L555.45,267.19 L555.70,267.15 L555.95,267.46 L556.20,267.71 L556.45,267.17 L556.70,267.38 L556.95,267.28 L557.20,267.09 L557.45,267.60 L557.70,267.34 L557.95,267.31 L558.20,267.41 L558.45,267.12 L558.70,267.22 L558.95,267.36 L559.20,267.39 L559.45,267.02 L559.70,267.32 L559.95,267.07 L560.20,267.09 L560.45,267.58 L560.70,267.41 L560.95,267.19 L561.20,267.12 L561.45,267.03 L561.70,267.02 L561.95,266.97 L562.20,267.27 L562.45,267.23 L562.70,267.03 L562.95,267.28 L563.20,266.97 L563.45,267.52 L563.70,267.05 L563.95,267.23 L564.20,267.60 L564.45,266.99 L564.70,267.13 L564.95,267.19 L565.20,267.42 L565.45,267.29 L565.70,266.88 L565.95,267.37 L566.20,267.92 L566.45,267.37 L566.70,267.44 L566.95,267.22 L567.20,267.28 L567.45,267.38 L567.70,267.37 L567.95,266.98 L568.20,267.49 L568.45,266.79 L568.70,267.31 L568.95,267.42 L569.20,267.03 L569.45,267.07 L569.70,267.41 L569.95,267.04 L570.20,267.57 L570.45,267.38 L570.70,266.96 L570.95,267.24 L571.20,267.46 L571.45,267.08 L571.70,267.00 L571.95,267.19 L572.20,267.56 L572.45,267.26 L572.70,267.10 L572.95,267.02 L573.20,266.79 L573.45,267.23 L573.70,267.27 L573.95,267.18 L574.20,266.92 L574.45,267.36 L574.70,266.88 L574.95,267.72 L575.20,266.97 L575.45,267.27 L575.70,267.02 L575.95,266.94 L576.20,267.28 L576.45,266.91 L576.70,266.48 L576.95,265.61 L577.20,264.44 L577.45,262.26 L577.70,260.02 L577.95,257.35 L578.20,257.80 L578.45,259.39 L578.70,262.06 L578.95,263.81 L579.20,265.70 L579.45,266.16 L579.70,266.69 L579.95,267.02 L580.20,266.93 L580.45,267.34 L580.70,267.20 L580.95,267.26 L581.20,267.41 L581.45,267.15 L581.70,267.19 L581.95,266.87 L582.20,267.87 L582.45,267.31 L582.70,267.37 L582.95,267.27 L583.20,267.09 L583.45,267.10 L583.70,267.18 L583.95,267.28 L584.20,267.08 L584.45,267.11 L584.70,267.57 L584.95,267.24 L585.20,267.48 L585.45,267.44 L585.70,267.16 L585.95,267.18 L586.20,267.17 L586.45,267.37 L586.70,267.23 L586.95,267.38 L587.20,267.11 L587.45,267.05 L587.70,266.83 L587.95,266.93 L588.20,267.36 L588.45,267.29 L588.70,267.39 L588.95,267.13 L589.20,266.78 L589.45,267.05 L589.70,267.65 L589.95,267.46 L590.20,267.47 L590.45,267.09 L590.70,267.20 L590.95,267.13 L591.20,266.83 L591.45,267.37 L591.70,267.37 L591.95,266.79 L592.20,267.13 L592.45,267.36 L592.70,267.62 L592.95,267.51 L593.20,267.71 L593.45,267.18 L593.70,267.19 L593.95,266.99 L594.20,267.23 L594.45,267.34 L594.70,267.35 L594.95,266.80 L595.20,267.57 L595.45,267.16 L595.70,267.19 L595.95,267.07 L596.20,267.28 L596.45,267.09 L596.70,267.03 L596.95,267.23 L597.20,267.29 L597.45,267.24 L597.70,267.40 L597.95,267.24 L598.20,267.26 L598.45,267.15 L598.70,266.92 L598.95,266.93 L599.20,267.29 L599.45,267.07 L599.70,267.14 L599.95,267.04 L600.20,267.19 L600.45,267.14 L600.70,267.30 L600.95,267.36 L601.20,267.02 L601.45,266.93 L601.70,267.06 L601.95,267.11" fill="none" stroke="#ff3838" stroke-width="1.05" stroke-linejoin="round"/>
<path d="M33.35,273.8 V270.8 M68.94,273.8 V272.2 M104.53,273.8 V270.8 M140.12,273.8 V272.2 M175.71,273.8 V270.8 M211.30,273.8 V272.2 M246.89,273.8 V270.8 M282.48,273.8 V272.2 M318.07,273.8 V270.8 M353.66,273.8 V272.2 M389.25,273.8 V270.8 M424.84,273.8 V272.2 M460.43,273.8 V270.8 M496.02,273.8 V272.2 M531.61,273.8 V270.8 M567.20,273.8 V272.2 M602.79,273.8 V270.8 M33.5,267.20 H37.3 M33.5,241.19 H35.3 M33.5,215.18 H37.3 M33.5,189.17 H35.3 M33.5,163.16 H37.3 M33.5,137.15 H35.3 M33.5,111.14 H37.3 M33.5,85.13 H35.3 M33.5,59.12 H37.3 M33.5,33.11 H35.3 M33.5,7.10 H37.3" stroke="#333" stroke-width="1.1" fill="none"/>
<rect x="33.5" y="7.1" width="569.30" height="266.70" fill="none" stroke="#2e2e2e" stroke-width="1.35"/>
<text x="33.35" y="287.8" font-size="11" text-anchor="middle" font-family="Liberation Sans, sans-serif" fill="#111" stroke="#111" stroke-width="0.22">200</text>
<text x="104.53" y="287.8" font-size="11" text-anchor="middle" font-family="Liberation Sans, sans-serif" fill="#111" stroke="#111" stroke-width="0.22">300</text>
<text x="175.71" y="287.8" font-size="11" text-anchor="middle" font-family="Liberation Sans, sans-serif" fill="#111" stroke="#111" stroke-width="0.22">400</text>
<text x="246.89" y="287.8" font-size="11" text-anchor="middle" font-family="Liberation Sans, sans-serif" fill="#111" stroke="#111" stroke-width="0.22">500</text>
<text x="318.07" y="287.8" font-size="11" text-anchor="middle" font-family="Liberation Sans, sans-serif" fill="#111" stroke="#111" stroke-width="0.22">600</text>
<text x="389.25" y="287.8" font-size="11" text-anchor="middle" font-family="Liberation Sans, sans-serif" fill="#111" stroke="#111" stroke-width="0.22">700</text>
<text x="460.43" y="287.8" font-size="11" text-anchor="middle" font-family="Liberation Sans, sans-serif" fill="#111" stroke="#111" stroke-width="0.22">800</text>
<text x="531.61" y="287.8" font-size="11" text-anchor="middle" font-family="Liberation Sans, sans-serif" fill="#111" stroke="#111" stroke-width="0.22">900</text>
<text x="602.79" y="287.8" font-size="11" text-anchor="middle" font-family="Liberation Sans, sans-serif" fill="#111" stroke="#111" stroke-width="0.22">1000</text>
<text x="29.0" y="271.40" font-size="11.4" text-anchor="end" font-family="Liberation Sans, sans-serif" fill="#111" stroke="#111" stroke-width="0.22">0</text>
<text x="29.0" y="219.38" font-size="11.4" text-anchor="end" font-family="Liberation Sans, sans-serif" fill="#111" stroke="#111" stroke-width="0.22">2</text>
<text x="29.0" y="167.36" font-size="11.4" text-anchor="end" font-family="Liberation Sans, sans-serif" fill="#111" stroke="#111" stroke-width="0.22">4</text>
<text x="29.0" y="115.34" font-size="11.4" text-anchor="end" font-family="Liberation Sans, sans-serif" fill="#111" stroke="#111" stroke-width="0.22">6</text>
<text x="29.0" y="63.32" font-size="11.4" text-anchor="end" font-family="Liberation Sans, sans-serif" fill="#111" stroke="#111" stroke-width="0.22">8</text>
<text x="29.0" y="11.30" font-size="11.4" text-anchor="end" font-family="Liberation Sans, sans-serif" fill="#111" stroke="#111" stroke-width="0.22">10</text>
<text transform="translate(326.60,302.40) scale(1,1.05)" font-size="11.6" text-anchor="middle" font-family="Liberation Sans, sans-serif" fill="#111" stroke="#111" stroke-width="0.22">Wavelength (nm)</text>
<text transform="translate(10.8,136.5) rotate(-90)" x="0" y="0" font-size="11.5" text-anchor="middle" font-family="Liberation Sans, sans-serif" fill="#111" stroke="#111" stroke-width="0.22">Intensity (a.u.)</text>
<rect x="66.8" y="48.7" width="197.10" height="166.70" fill="#fff" stroke="none"/>
<line x1="79.12" y1="169.2" x2="79.12" y2="215.4" stroke="#666" stroke-width="1.1" stroke-dasharray="1.6,0.9"/>
<line x1="91.44" y1="169.2" x2="91.44" y2="215.4" stroke="#666" stroke-width="1.1" stroke-dasharray="1.6,0.9"/>
<line x1="103.76" y1="169.2" x2="103.76" y2="215.4" stroke="#666" stroke-width="1.1" stroke-dasharray="1.6,0.9"/>
<line x1="251.58" y1="169.2" x2="251.58" y2="215.4" stroke="#666" stroke-width="1.1" stroke-dasharray="1.6,0.9"/>
<path d="M67.50,178.97 L67.75,180.54 L68.00,180.29 L68.25,180.70 L68.50,180.75 L68.75,179.40 L69.00,180.26 L69.25,180.43 L69.50,179.67 L69.75,179.20 L70.00,179.71 L70.25,179.79 L70.50,180.89 L70.75,179.68 L71.00,179.97 L71.25,181.18 L71.50,181.01 L71.75,180.25 L72.00,181.29 L72.25,181.29 L72.50,181.31 L72.75,180.36 L73.00,181.26 L73.25,180.93 L73.50,180.50 L73.75,180.14 L74.00,180.23 L74.25,180.45 L74.50,180.60 L74.75,182.15 L75.00,181.06 L75.25,180.42 L75.50,180.59 L75.75,181.41 L76.00,180.74 L76.25,181.21 L76.50,181.12 L76.75,181.39 L77.00,181.83 L77.25,182.28 L77.50,182.15 L77.75,181.57 L78.00,179.49 L78.25,182.43 L78.50,181.00 L78.75,180.64 L79.00,180.74 L79.25,181.19 L79.50,181.11 L79.75,181.03 L80.00,181.51 L80.25,181.50 L80.50,181.25 L80.75,181.22 L81.00,181.09 L81.25,181.70 L81.50,180.45 L81.75,180.84 L82.00,181.39 L82.25,182.06 L82.50,181.91 L82.75,181.36 L83.00,181.21 L83.25,181.62 L83.50,180.51 L83.75,181.83 L84.00,180.15 L84.25,181.99 L84.50,180.51 L84.75,181.53 L85.00,181.87 L85.25,180.95 L85.50,180.90 L85.75,180.80 L86.00,180.32 L86.25,180.86 L86.50,181.30 L86.75,180.49 L87.00,179.82 L87.25,180.01 L87.50,181.41 L87.75,181.01 L88.00,180.75 L88.25,180.64 L88.50,181.71 L88.75,180.83 L89.00,180.94 L89.25,181.02 L89.50,179.07 L89.75,179.92 L90.00,179.85 L90.25,179.52 L90.50,180.03 L90.75,179.44 L91.00,179.36 L91.25,179.46 L91.50,179.58 L91.75,179.11 L92.00,179.45 L92.25,179.74 L92.50,179.37 L92.75,179.18 L93.00,179.79 L93.25,179.30 L93.50,179.69 L93.75,179.27 L94.00,178.89 L94.25,178.39 L94.50,177.85 L94.75,178.41 L95.00,179.53 L95.25,179.14 L95.50,180.32 L95.75,179.28 L96.00,179.39 L96.25,178.69 L96.50,178.54 L96.75,178.02 L97.00,178.46 L97.25,179.41 L97.50,178.72 L97.75,177.13 L98.00,178.03 L98.25,177.95 L98.50,178.13 L98.75,179.72 L99.00,178.38 L99.25,178.23 L99.50,178.85 L99.75,178.45 L100.00,177.59 L100.25,178.03 L100.50,177.99 L100.75,178.21 L101.00,177.90 L101.25,177.70 L101.50,177.87 L101.75,178.53 L102.00,178.38 L102.25,178.86 L102.50,177.29 L102.75,177.91 L103.00,177.12 L103.25,177.17 L103.50,178.55 L103.75,177.90 L104.00,177.48 L104.25,179.02 L104.50,177.67 L104.75,177.80 L105.00,178.15 L105.25,177.40 L105.50,178.51 L105.75,177.63 L106.00,176.93 L106.25,178.01 L106.50,176.97 L106.75,178.02 L107.00,177.71 L107.25,176.95 L107.50,177.30 L107.75,177.02 L108.00,176.79 L108.25,176.54 L108.50,178.10 L108.75,176.36 L109.00,177.53 L109.25,177.15 L109.50,177.52 L109.75,176.34 L110.00,177.00 L110.25,178.39 L110.50,177.75 L110.75,177.56 L111.00,177.35 L111.25,177.17 L111.50,177.00 L111.75,177.40 L112.00,177.23 L112.25,177.22 L112.50,177.34 L112.75,176.27 L113.00,176.98 L113.25,176.82 L113.50,176.59 L113.75,177.29 L114.00,175.94 L114.25,176.85 L114.50,176.06 L114.75,176.87 L115.00,176.13 L115.25,176.59 L115.50,177.06 L115.75,176.96 L116.00,177.52 L116.25,176.05 L116.50,177.19 L116.75,177.50 L117.00,175.72 L117.25,176.65 L117.50,176.06 L117.75,176.37 L118.00,177.24 L118.25,176.36 L118.50,175.57 L118.75,176.49 L119.00,177.38 L119.25,175.58 L119.50,176.28 L119.75,175.99 L120.00,176.47 L120.25,175.81 L120.50,176.57 L120.75,176.86 L121.00,175.32 L121.25,175.66 L121.50,174.85 L121.75,176.43 L122.00,175.59 L122.25,176.30 L122.50,174.47 L122.75,175.98 L123.00,175.26 L123.25,176.29 L123.50,175.75 L123.75,175.78 L124.00,175.38 L124.25,175.44 L124.50,174.72 L124.75,175.16 L125.00,174.61 L125.25,175.65 L125.50,175.10 L125.75,176.37 L126.00,174.84 L126.25,175.48 L126.50,176.73 L126.75,175.24 L127.00,175.73 L127.25,174.39 L127.50,175.55 L127.75,175.04 L128.00,175.05 L128.25,174.64 L128.50,173.92 L128.75,174.98 L129.00,175.52 L129.25,174.88 L129.50,175.27 L129.75,175.40 L130.00,175.33 L130.25,176.14 L130.50,174.97 L130.75,175.24 L131.00,175.49 L131.25,175.77 L131.50,175.93 L131.75,175.56 L132.00,176.40 L132.25,176.38 L132.50,175.91 L132.75,176.87 L133.00,176.19 L133.25,176.72 L133.50,176.72 L133.75,176.72 L134.00,176.60 L134.25,177.01 L134.50,177.93 L134.75,177.79 L135.00,177.57 L135.25,178.08 L135.50,179.24 L135.75,178.94 L136.00,178.19 L136.25,177.69 L136.50,177.58 L136.75,176.82 L137.00,178.93 L137.25,179.11 L137.50,178.91 L137.75,178.73 L138.00,178.68 L138.25,177.94 L138.50,178.99 L138.75,178.29 L139.00,178.78 L139.25,179.40 L139.50,180.27 L139.75,179.06 L140.00,179.32 L140.25,180.48 L140.50,178.59 L140.75,179.74 L141.00,179.18 L141.25,178.55 L141.50,178.92 L141.75,179.50 L142.00,179.45 L142.25,178.95 L142.50,179.18 L142.75,179.62 L143.00,178.95 L143.25,178.79 L143.50,179.63 L143.75,180.25 L144.00,179.66 L144.25,180.70 L144.50,179.96 L144.75,179.67 L145.00,180.22 L145.25,180.79 L145.50,179.09 L145.75,180.37 L146.00,179.81 L146.25,180.12 L146.50,180.72 L146.75,179.49 L147.00,180.70 L147.25,180.19 L147.50,180.52 L147.75,180.34 L148.00,181.90 L148.25,180.98 L148.50,180.92 L148.75,181.43 L149.00,182.90 L149.25,181.93 L149.50,181.74 L149.75,181.38 L150.00,182.35 L150.25,182.75 L150.50,181.61 L150.75,181.90 L151.00,182.28 L151.25,181.59 L151.50,182.06 L151.75,182.17 L152.00,183.84 L152.25,181.78 L152.50,183.09 L152.75,182.92 L153.00,182.29 L153.25,183.01 L153.50,182.75 L153.75,182.79 L154.00,181.72 L154.25,182.98 L154.50,185.01 L154.75,183.69 L155.00,183.63 L155.25,183.51 L155.50,183.91 L155.75,183.14 L156.00,183.47 L156.25,183.44 L156.50,184.17 L156.75,184.93 L157.00,183.34 L157.25,183.99 L157.50,184.18 L157.75,184.16 L158.00,183.07 L158.25,185.03 L158.50,183.45 L158.75,183.83 L159.00,182.62 L159.25,185.16 L159.50,183.69 L159.75,184.01 L160.00,184.70 L160.25,184.47 L160.50,184.56 L160.75,184.20 L161.00,183.85 L161.25,184.14 L161.50,185.49 L161.75,184.71 L162.00,184.61 L162.25,184.27 L162.50,183.25 L162.75,183.18 L163.00,185.01 L163.25,185.69 L163.50,183.42 L163.75,184.65 L164.00,183.78 L164.25,185.49 L164.50,184.66 L164.75,185.36 L165.00,185.26 L165.25,185.83 L165.50,185.02 L165.75,183.86 L166.00,185.54 L166.25,185.48 L166.50,186.47 L166.75,184.66 L167.00,185.12 L167.25,185.27 L167.50,185.71 L167.75,185.46 L168.00,184.63 L168.25,186.68 L168.50,185.96 L168.75,185.17 L169.00,186.37 L169.25,186.80 L169.50,186.58 L169.75,186.75 L170.00,186.13 L170.25,185.14 L170.50,186.14 L170.75,186.69 L171.00,186.15 L171.25,185.29 L171.50,185.12 L171.75,186.39 L172.00,186.05 L172.25,185.64 L172.50,185.68 L172.75,185.26 L173.00,185.41 L173.25,185.10 L173.50,185.19 L173.75,184.41 L174.00,186.39 L174.25,185.63 L174.50,185.67 L174.75,185.32 L175.00,185.73 L175.25,184.01 L175.50,184.56 L175.75,184.83 L176.00,185.16 L176.25,184.65 L176.50,185.01 L176.75,184.43 L177.00,185.54 L177.25,185.39 L177.50,185.32 L177.75,183.72 L178.00,184.04 L178.25,184.28 L178.50,183.54 L178.75,183.26 L179.00,184.22 L179.25,183.20 L179.50,183.40 L179.75,184.49 L180.00,184.47 L180.25,183.28 L180.50,184.12 L180.75,184.29 L181.00,183.83 L181.25,183.51 L181.50,182.33 L181.75,183.43 L182.00,182.31 L182.25,183.77 L182.50,182.73 L182.75,182.03 L183.00,182.86 L183.25,182.59 L183.50,181.87 L183.75,182.65 L184.00,183.00 L184.25,182.26 L184.50,181.57 L184.75,180.57 L185.00,181.11 L185.25,180.79 L185.50,180.39 L185.75,179.69 L186.00,178.99 L186.25,179.79 L186.50,179.10 L186.75,179.98 L187.00,179.12 L187.25,178.05 L187.50,177.52 L187.75,178.38 L188.00,178.39 L188.25,178.04 L188.50,177.01 L188.75,177.41 L189.00,176.23 L189.25,177.40 L189.50,176.75 L189.75,178.27 L190.00,176.89 L190.25,175.86 L190.50,176.51 L190.75,174.98 L191.00,174.54 L191.25,175.78 L191.50,174.47 L191.75,173.14 L192.00,173.07 L192.25,173.43 L192.50,173.01 L192.75,172.39 L193.00,172.82 L193.25,172.26 L193.50,171.88 L193.75,172.21 L194.00,170.74 L194.25,171.15 L194.50,169.44 L194.75,170.44 L195.00,170.00 L195.25,168.93 L195.50,168.24 L195.75,166.90 L196.00,167.36 L196.25,166.49 L196.50,167.52 L196.75,166.80 L197.00,165.83 L197.25,164.93 L197.50,164.82 L197.75,164.41 L198.00,164.23 L198.25,163.94 L198.50,162.46 L198.75,161.55 L199.00,162.41 L199.25,160.64 L199.50,160.93 L199.75,161.27 L200.00,160.37 L200.25,159.42 L200.50,157.79 L200.75,156.76 L201.00,155.45 L201.25,156.04 L201.50,155.29 L201.75,154.22 L202.00,153.61 L202.25,152.16 L202.50,151.15 L202.75,151.07 L203.00,149.85 L203.25,149.78 L203.50,148.90 L203.75,147.29 L204.00,147.51 L204.25,145.37 L204.50,145.00 L204.75,143.81 L205.00,141.73 L205.25,141.52 L205.50,141.31 L205.75,140.45 L206.00,140.12 L206.25,137.71 L206.50,137.97 L206.75,135.69 L207.00,134.76 L207.25,134.37 L207.50,133.61 L207.75,131.90 L208.00,130.66 L208.25,129.05 L208.50,126.05 L208.75,121.76 L209.00,117.03 L209.25,110.28 L209.50,100.51 L209.75,92.55 L210.00,81.66 L210.25,72.05 L210.50,64.20 L210.75,57.75 L211.00,55.27 L211.25,57.04 L211.50,65.39 L211.75,78.99 L212.00,95.04 L212.25,113.63 L212.50,130.15 L212.75,146.00 L213.00,157.71 L213.25,166.74 L213.50,173.34 L213.75,179.49 L214.00,182.23 L214.25,184.15 L214.50,184.63 L214.75,185.52 L215.00,186.01 L215.25,185.42 L215.50,186.63 L215.75,185.07 L216.00,185.37 L216.25,185.21 L216.50,186.14 L216.75,185.86 L217.00,185.09 L217.25,186.05 L217.50,185.14 L217.75,185.64 L218.00,185.77 L218.25,185.01 L218.50,184.19 L218.75,185.65 L219.00,186.53 L219.25,185.19 L219.50,186.34 L219.75,185.48 L220.00,186.11 L220.25,184.37 L220.50,185.20 L220.75,185.04 L221.00,185.74 L221.25,185.11 L221.50,184.38 L221.75,184.73 L222.00,186.03 L222.25,184.74 L222.50,185.71 L222.75,187.07 L223.00,186.35 L223.25,185.41 L223.50,185.28 L223.75,186.37 L224.00,185.59 L224.25,185.06 L224.50,185.20 L224.75,185.96 L225.00,186.53 L225.25,186.31 L225.50,185.37 L225.75,186.49 L226.00,185.36 L226.25,187.41 L226.50,186.23 L226.75,185.61 L227.00,186.49 L227.25,185.02 L227.50,185.23 L227.75,184.49 L228.00,185.69 L228.25,185.28 L228.50,185.73 L228.75,186.21 L229.00,185.64 L229.25,186.08 L229.50,185.73 L229.75,184.94 L230.00,185.83 L230.25,186.43 L230.50,184.23 L230.75,186.07 L231.00,184.81 L231.25,184.78 L231.50,185.13 L231.75,185.66 L232.00,186.35 L232.25,185.24 L232.50,185.17 L232.75,185.70 L233.00,186.03 L233.25,184.44 L233.50,186.02 L233.75,184.24 L234.00,187.64 L234.25,185.14 L234.50,185.88 L234.75,185.10 L235.00,185.56 L235.25,186.80 L235.50,185.78 L235.75,186.13 L236.00,186.67 L236.25,185.84 L236.50,185.74 L236.75,187.29 L237.00,185.56 L237.25,186.60 L237.50,185.89 L237.75,186.56 L238.00,185.32 L238.25,186.25 L238.50,186.07 L238.75,186.33 L239.00,185.04 L239.25,185.40 L239.50,185.82 L239.75,185.09 L240.00,184.45 L240.25,185.47 L240.50,185.98 L240.75,184.95 L241.00,185.39 L241.25,184.98 L241.50,185.62 L241.75,186.56 L242.00,185.61 L242.25,186.58 L242.50,184.83 L242.75,185.82 L243.00,185.49 L243.25,185.44 L243.50,184.87 L243.75,185.94 L244.00,186.37 L244.25,186.37 L244.50,185.67 L244.75,186.24 L245.00,185.58 L245.25,184.86 L245.50,186.08 L245.75,185.00 L246.00,186.98 L246.25,184.55 L246.50,184.75 L246.75,186.00 L247.00,184.99 L247.25,186.19 L247.50,186.03 L247.75,185.24 L248.00,186.10 L248.25,184.97 L248.50,185.42 L248.75,185.56 L249.00,185.27 L249.25,185.69 L249.50,185.36 L249.75,184.74 L250.00,186.69 L250.25,185.55 L250.50,185.53 L250.75,185.64 L251.00,186.39 L251.25,184.81 L251.50,185.53 L251.75,184.97 L252.00,185.36 L252.25,186.65 L252.50,185.97 L252.75,185.62 L253.00,185.43 L253.25,185.33 L253.50,187.16 L253.75,184.75 L254.00,185.45 L254.25,184.69 L254.50,185.65 L254.75,186.31 L255.00,185.56 L255.25,185.99 L255.50,185.40 L255.75,185.69 L256.00,185.78 L256.25,185.49 L256.50,185.64 L256.75,185.45 L257.00,186.16 L257.25,185.78 L257.50,184.89 L257.75,185.72 L258.00,184.59 L258.25,184.84 L258.50,184.86 L258.75,185.46 L259.00,185.87 L259.25,185.22 L259.50,185.94 L259.75,185.68 L260.00,186.46 L260.25,185.61 L260.50,186.34 L260.75,186.47 L261.00,184.56 L261.25,185.29 L261.50,186.22 L261.75,185.23 L262.00,185.08 L262.25,185.46 L262.50,186.07 L262.75,184.62 L263.00,186.60" fill="none" stroke="#3cc8cc" stroke-width="1" stroke-linejoin="round"/>
<path d="M67.50,188.60 L67.75,189.39 L68.00,189.51 L68.25,190.33 L68.50,189.27 L68.75,189.09 L69.00,189.62 L69.25,189.57 L69.50,190.38 L69.75,188.51 L70.00,189.21 L70.25,189.69 L70.50,189.09 L70.75,189.28 L71.00,189.46 L71.25,189.68 L71.50,189.53 L71.75,189.31 L72.00,189.10 L72.25,189.11 L72.50,189.42 L72.75,189.12 L73.00,189.85 L73.25,190.79 L73.50,190.76 L73.75,189.26 L74.00,190.93 L74.25,190.41 L74.50,189.91 L74.75,189.33 L75.00,191.31 L75.25,190.73 L75.50,190.54 L75.75,190.52 L76.00,190.06 L76.25,189.56 L76.50,189.70 L76.75,188.29 L77.00,189.11 L77.25,191.02 L77.50,191.14 L77.75,190.34 L78.00,190.39 L78.25,189.49 L78.50,189.78 L78.75,189.67 L79.00,190.20 L79.25,189.90 L79.50,189.94 L79.75,190.33 L80.00,189.80 L80.25,191.09 L80.50,189.55 L80.75,189.77 L81.00,188.29 L81.25,190.20 L81.50,191.15 L81.75,190.55 L82.00,190.25 L82.25,190.62 L82.50,190.91 L82.75,190.34 L83.00,190.99 L83.25,189.32 L83.50,191.03 L83.75,189.66 L84.00,189.37 L84.25,189.71 L84.50,189.08 L84.75,189.69 L85.00,189.37 L85.25,190.48 L85.50,190.70 L85.75,190.22 L86.00,189.76 L86.25,189.20 L86.50,190.61 L86.75,190.21 L87.00,190.28 L87.25,189.23 L87.50,190.10 L87.75,188.98 L88.00,189.91 L88.25,190.14 L88.50,190.10 L88.75,190.72 L89.00,191.29 L89.25,189.93 L89.50,190.02 L89.75,188.15 L90.00,189.20 L90.25,188.87 L90.50,189.33 L90.75,189.52 L91.00,190.31 L91.25,190.16 L91.50,188.39 L91.75,189.59 L92.00,189.56 L92.25,188.74 L92.50,189.34 L92.75,189.33 L93.00,187.84 L93.25,188.87 L93.50,189.34 L93.75,189.32 L94.00,189.50 L94.25,188.77 L94.50,188.62 L94.75,189.33 L95.00,189.09 L95.25,189.93 L95.50,189.08 L95.75,188.41 L96.00,189.46 L96.25,188.89 L96.50,189.25 L96.75,189.07 L97.00,188.55 L97.25,189.35 L97.50,187.97 L97.75,187.84 L98.00,187.89 L98.25,189.22 L98.50,189.84 L98.75,188.96 L99.00,188.50 L99.25,188.59 L99.50,188.67 L99.75,188.52 L100.00,188.75 L100.25,188.09 L100.50,189.41 L100.75,188.24 L101.00,188.14 L101.25,188.82 L101.50,186.07 L101.75,188.25 L102.00,188.25 L102.25,189.19 L102.50,188.24 L102.75,188.26 L103.00,187.67 L103.25,188.70 L103.50,187.67 L103.75,189.23 L104.00,188.37 L104.25,189.52 L104.50,188.38 L104.75,187.88 L105.00,189.35 L105.25,187.91 L105.50,188.04 L105.75,189.35 L106.00,188.95 L106.25,188.65 L106.50,187.96 L106.75,187.39 L107.00,188.69 L107.25,188.87 L107.50,188.48 L107.75,189.96 L108.00,187.90 L108.25,188.27 L108.50,188.35 L108.75,187.27 L109.00,188.30 L109.25,188.56 L109.50,187.42 L109.75,188.33 L110.00,187.99 L110.25,188.19 L110.50,187.98 L110.75,187.80 L111.00,187.70 L111.25,188.62 L111.50,187.01 L111.75,188.07 L112.00,188.06 L112.25,187.23 L112.50,188.03 L112.75,187.40 L113.00,186.95 L113.25,187.06 L113.50,187.88 L113.75,186.93 L114.00,187.67 L114.25,188.00 L114.50,188.00 L114.75,187.24 L115.00,187.83 L115.25,186.54 L115.50,186.82 L115.75,186.94 L116.00,186.55 L116.25,186.64 L116.50,187.70 L116.75,185.61 L117.00,188.08 L117.25,187.01 L117.50,188.24 L117.75,187.22 L118.00,187.29 L118.25,187.85 L118.50,186.61 L118.75,186.85 L119.00,186.88 L119.25,187.51 L119.50,185.93 L119.75,186.93 L120.00,186.30 L120.25,187.67 L120.50,185.80 L120.75,186.89 L121.00,186.03 L121.25,186.87 L121.50,186.62 L121.75,186.26 L122.00,186.56 L122.25,185.16 L122.50,186.59 L122.75,186.62 L123.00,185.74 L123.25,186.29 L123.50,186.96 L123.75,186.53 L124.00,185.85 L124.25,186.26 L124.50,185.57 L124.75,187.00 L125.00,186.05 L125.25,186.70 L125.50,186.44 L125.75,186.58 L126.00,186.71 L126.25,184.68 L126.50,186.05 L126.75,185.64 L127.00,185.89 L127.25,184.89 L127.50,186.46 L127.75,186.91 L128.00,185.70 L128.25,186.68 L128.50,185.16 L128.75,186.66 L129.00,186.26 L129.25,185.69 L129.50,186.83 L129.75,186.35 L130.00,185.99 L130.25,187.15 L130.50,186.34 L130.75,187.22 L131.00,186.50 L131.25,185.42 L131.50,185.63 L131.75,186.70 L132.00,186.77 L132.25,187.18 L132.50,186.30 L132.75,186.42 L133.00,187.82 L133.25,187.61 L133.50,187.91 L133.75,187.08 L134.00,187.13 L134.25,187.28 L134.50,187.06 L134.75,187.17 L135.00,187.62 L135.25,187.37 L135.50,188.11 L135.75,187.40 L136.00,187.30 L136.25,189.38 L136.50,187.09 L136.75,188.24 L137.00,187.81 L137.25,188.31 L137.50,187.43 L137.75,188.48 L138.00,188.26 L138.25,188.91 L138.50,188.62 L138.75,188.39 L139.00,189.32 L139.25,188.85 L139.50,189.12 L139.75,188.74 L140.00,188.20 L140.25,188.73 L140.50,188.01 L140.75,189.24 L141.00,189.03 L141.25,188.93 L141.50,189.39 L141.75,188.59 L142.00,189.29 L142.25,189.34 L142.50,188.72 L142.75,189.39 L143.00,188.94 L143.25,189.03 L143.50,188.31 L143.75,188.13 L144.00,188.74 L144.25,189.54 L144.50,188.64 L144.75,187.66 L145.00,189.48 L145.25,189.45 L145.50,188.53 L145.75,189.46 L146.00,189.69 L146.25,188.80 L146.50,190.15 L146.75,189.03 L147.00,190.23 L147.25,189.45 L147.50,189.89 L147.75,190.43 L148.00,189.45 L148.25,190.95 L148.50,189.75 L148.75,190.30 L149.00,189.59 L149.25,191.08 L149.50,189.80 L149.75,189.17 L150.00,190.91 L150.25,190.59 L150.50,190.06 L150.75,188.43 L151.00,190.64 L151.25,191.30 L151.50,190.79 L151.75,191.11 L152.00,191.36 L152.25,191.98 L152.50,190.24 L152.75,192.27 L153.00,191.45 L153.25,192.59 L153.50,192.87 L153.75,191.15 L154.00,192.46 L154.25,191.15 L154.50,191.63 L154.75,192.33 L155.00,191.30 L155.25,192.69 L155.50,191.36 L155.75,191.14 L156.00,192.73 L156.25,191.84 L156.50,190.97 L156.75,191.79 L157.00,192.82 L157.25,191.38 L157.50,192.01 L157.75,191.90 L158.00,192.92 L158.25,191.84 L158.50,191.89 L158.75,192.81 L159.00,191.74 L159.25,192.27 L159.50,191.54 L159.75,191.54 L160.00,192.60 L160.25,192.92 L160.50,191.24 L160.75,191.72 L161.00,192.55 L161.25,191.50 L161.50,191.86 L161.75,192.00 L162.00,192.65 L162.25,192.77 L162.50,191.64 L162.75,192.57 L163.00,192.76 L163.25,192.26 L163.50,193.42 L163.75,192.87 L164.00,192.88 L164.25,191.22 L164.50,194.07 L164.75,193.12 L165.00,193.62 L165.25,194.32 L165.50,192.00 L165.75,192.40 L166.00,193.77 L166.25,193.76 L166.50,193.80 L166.75,193.82 L167.00,194.02 L167.25,193.70 L167.50,193.24 L167.75,193.76 L168.00,193.46 L168.25,194.99 L168.50,193.12 L168.75,194.62 L169.00,194.86 L169.25,194.84 L169.50,193.97 L169.75,194.40 L170.00,195.12 L170.25,194.44 L170.50,193.06 L170.75,194.23 L171.00,194.58 L171.25,194.83 L171.50,194.08 L171.75,194.94 L172.00,194.34 L172.25,194.98 L172.50,193.68 L172.75,194.71 L173.00,193.20 L173.25,193.50 L173.50,193.96 L173.75,193.21 L174.00,193.08 L174.25,194.40 L174.50,192.87 L174.75,193.43 L175.00,193.23 L175.25,194.05 L175.50,193.90 L175.75,193.15 L176.00,194.03 L176.25,193.85 L176.50,193.26 L176.75,194.51 L177.00,194.68 L177.25,193.02 L177.50,193.06 L177.75,192.46 L178.00,193.15 L178.25,194.13 L178.50,193.01 L178.75,193.05 L179.00,192.83 L179.25,192.92 L179.50,192.88 L179.75,192.72 L180.00,193.74 L180.25,192.91 L180.50,193.83 L180.75,193.48 L181.00,192.51 L181.25,193.42 L181.50,193.79 L181.75,193.25 L182.00,192.28 L182.25,191.90 L182.50,192.14 L182.75,191.64 L183.00,193.55 L183.25,192.10 L183.50,191.33 L183.75,191.81 L184.00,191.14 L184.25,191.81 L184.50,191.13 L184.75,190.08 L185.00,191.23 L185.25,189.07 L185.50,190.18 L185.75,190.19 L186.00,188.56 L186.25,189.80 L186.50,188.84 L186.75,188.51 L187.00,189.35 L187.25,188.92 L187.50,188.59 L187.75,188.43 L188.00,188.56 L188.25,187.29 L188.50,187.50 L188.75,188.12 L189.00,187.47 L189.25,186.41 L189.50,187.54 L189.75,186.89 L190.00,185.55 L190.25,185.67 L190.50,186.05 L190.75,185.53 L191.00,185.35 L191.25,183.80 L191.50,184.34 L191.75,184.41 L192.00,184.92 L192.25,184.37 L192.50,183.74 L192.75,183.86 L193.00,182.98 L193.25,182.62 L193.50,182.43 L193.75,182.10 L194.00,182.21 L194.25,181.72 L194.50,179.35 L194.75,179.25 L195.00,179.45 L195.25,178.96 L195.50,178.80 L195.75,178.99 L196.00,177.90 L196.25,178.60 L196.50,177.16 L196.75,177.37 L197.00,176.43 L197.25,175.18 L197.50,175.55 L197.75,175.11 L198.00,174.13 L198.25,173.81 L198.50,172.59 L198.75,172.76 L199.00,171.82 L199.25,172.17 L199.50,171.82 L199.75,170.34 L200.00,169.61 L200.25,170.44 L200.50,169.95 L200.75,168.78 L201.00,167.04 L201.25,167.57 L201.50,166.09 L201.75,164.40 L202.00,164.61 L202.25,164.09 L202.50,163.19 L202.75,162.02 L203.00,162.84 L203.25,161.49 L203.50,160.12 L203.75,157.91 L204.00,157.03 L204.25,157.45 L204.50,156.18 L204.75,156.32 L205.00,154.98 L205.25,153.56 L205.50,153.06 L205.75,151.46 L206.00,150.96 L206.25,149.66 L206.50,148.25 L206.75,148.09 L207.00,146.70 L207.25,145.80 L207.50,145.17 L207.75,143.64 L208.00,142.52 L208.25,140.87 L208.50,138.24 L208.75,134.93 L209.00,130.98 L209.25,123.36 L209.50,118.53 L209.75,108.76 L210.00,101.07 L210.25,93.28 L210.50,85.37 L210.75,81.13 L211.00,78.50 L211.25,78.99 L211.50,86.64 L211.75,98.73 L212.00,113.06 L212.25,130.37 L212.50,143.35 L212.75,157.82 L213.00,169.49 L213.25,177.45 L213.50,182.98 L213.75,188.23 L214.00,190.43 L214.25,190.60 L214.50,191.99 L214.75,192.98 L215.00,193.77 L215.25,194.77 L215.50,194.32 L215.75,193.72 L216.00,193.62 L216.25,192.77 L216.50,193.97 L216.75,193.83 L217.00,194.18 L217.25,194.79 L217.50,193.64 L217.75,194.52 L218.00,194.19 L218.25,194.62 L218.50,193.70 L218.75,194.31 L219.00,193.59 L219.25,192.63 L219.50,193.83 L219.75,193.70 L220.00,194.30 L220.25,194.83 L220.50,192.62 L220.75,195.19 L221.00,192.46 L221.25,193.13 L221.50,193.90 L221.75,193.49 L222.00,193.88 L222.25,193.55 L222.50,193.47 L222.75,193.81 L223.00,194.04 L223.25,193.91 L223.50,193.82 L223.75,193.87 L224.00,193.75 L224.25,193.45 L224.50,193.82 L224.75,193.82 L225.00,194.07 L225.25,193.84 L225.50,193.80 L225.75,193.80 L226.00,193.64 L226.25,194.15 L226.50,194.75 L226.75,193.24 L227.00,193.46 L227.25,193.35 L227.50,193.37 L227.75,194.61 L228.00,193.32 L228.25,193.25 L228.50,193.42 L228.75,194.51 L229.00,193.89 L229.25,193.39 L229.50,193.30 L229.75,194.18 L230.00,193.66 L230.25,193.34 L230.50,194.85 L230.75,194.54 L231.00,194.29 L231.25,194.56 L231.50,194.10 L231.75,193.45 L232.00,194.10 L232.25,194.36 L232.50,194.14 L232.75,192.83 L233.00,192.75 L233.25,194.43 L233.50,193.05 L233.75,193.08 L234.00,194.06 L234.25,193.88 L234.50,193.54 L234.75,194.57 L235.00,194.06 L235.25,193.80 L235.50,194.51 L235.75,194.08 L236.00,193.18 L236.25,195.06 L236.50,192.89 L236.75,192.80 L237.00,193.92 L237.25,193.76 L237.50,193.81 L237.75,194.99 L238.00,193.73 L238.25,194.18 L238.50,193.93 L238.75,195.29 L239.00,193.25 L239.25,194.00 L239.50,193.66 L239.75,194.08 L240.00,193.19 L240.25,194.38 L240.50,194.40 L240.75,194.74 L241.00,193.85 L241.25,193.37 L241.50,192.90 L241.75,193.43 L242.00,193.70 L242.25,193.80 L242.50,194.25 L242.75,194.44 L243.00,193.48 L243.25,193.84 L243.50,194.23 L243.75,193.91 L244.00,193.31 L244.25,195.32 L244.50,193.52 L244.75,193.90 L245.00,193.92 L245.25,194.62 L245.50,193.28 L245.75,193.42 L246.00,193.98 L246.25,194.83 L246.50,194.08 L246.75,193.75 L247.00,194.24 L247.25,193.45 L247.50,194.74 L247.75,192.56 L248.00,194.49 L248.25,194.43 L248.50,193.24 L248.75,193.82 L249.00,193.78 L249.25,194.19 L249.50,193.30 L249.75,193.76 L250.00,193.29 L250.25,193.19 L250.50,194.36 L250.75,192.77 L251.00,193.71 L251.25,194.43 L251.50,192.72 L251.75,194.48 L252.00,192.33 L252.25,194.43 L252.50,192.64 L252.75,194.75 L253.00,195.69 L253.25,193.36 L253.50,193.95 L253.75,192.90 L254.00,191.78 L254.25,193.60 L254.50,193.91 L254.75,194.01 L255.00,192.95 L255.25,194.03 L255.50,194.43 L255.75,193.39 L256.00,192.44 L256.25,194.15 L256.50,193.50 L256.75,193.49 L257.00,193.75 L257.25,193.68 L257.50,193.30 L257.75,193.17 L258.00,194.47 L258.25,194.71 L258.50,193.33 L258.75,194.68 L259.00,193.71 L259.25,193.88 L259.50,193.15 L259.75,193.94 L260.00,193.77 L260.25,194.68 L260.50,193.72 L260.75,194.76 L261.00,193.39 L261.25,193.17 L261.50,192.59 L261.75,193.44 L262.00,193.86 L262.25,194.36 L262.50,194.09 L262.75,193.32 L263.00,193.25" fill="none" stroke="#cfa235" stroke-width="1" stroke-linejoin="round"/>
<path d="M67.50,197.84 L67.75,197.67 L68.00,197.89 L68.25,197.50 L68.50,198.88 L68.75,198.79 L69.00,199.01 L69.25,198.96 L69.50,197.67 L69.75,198.22 L70.00,199.00 L70.25,198.98 L70.50,197.71 L70.75,199.19 L71.00,198.81 L71.25,198.18 L71.50,197.71 L71.75,197.69 L72.00,198.86 L72.25,199.36 L72.50,199.27 L72.75,198.31 L73.00,198.46 L73.25,197.84 L73.50,198.08 L73.75,197.94 L74.00,199.30 L74.25,199.36 L74.50,198.67 L74.75,198.41 L75.00,199.19 L75.25,197.88 L75.50,199.78 L75.75,198.81 L76.00,199.33 L76.25,198.49 L76.50,198.45 L76.75,198.99 L77.00,198.56 L77.25,197.98 L77.50,199.26 L77.75,199.30 L78.00,199.45 L78.25,199.06 L78.50,199.47 L78.75,199.98 L79.00,198.41 L79.25,199.63 L79.50,200.33 L79.75,198.53 L80.00,199.65 L80.25,198.52 L80.50,198.15 L80.75,199.51 L81.00,199.60 L81.25,198.12 L81.50,199.91 L81.75,199.60 L82.00,199.32 L82.25,199.29 L82.50,197.97 L82.75,198.85 L83.00,199.91 L83.25,197.80 L83.50,198.32 L83.75,198.80 L84.00,197.52 L84.25,198.09 L84.50,198.16 L84.75,199.03 L85.00,198.62 L85.25,197.61 L85.50,198.14 L85.75,198.70 L86.00,199.40 L86.25,198.19 L86.50,198.36 L86.75,197.81 L87.00,197.98 L87.25,197.85 L87.50,198.36 L87.75,198.11 L88.00,198.63 L88.25,198.10 L88.50,198.04 L88.75,198.04 L89.00,198.74 L89.25,197.96 L89.50,198.30 L89.75,198.84 L90.00,198.15 L90.25,197.73 L90.50,198.43 L90.75,197.09 L91.00,197.86 L91.25,197.37 L91.50,197.61 L91.75,199.12 L92.00,199.17 L92.25,197.67 L92.50,198.22 L92.75,198.26 L93.00,197.56 L93.25,197.65 L93.50,197.68 L93.75,198.43 L94.00,196.92 L94.25,199.19 L94.50,197.12 L94.75,198.07 L95.00,197.19 L95.25,197.66 L95.50,197.48 L95.75,196.74 L96.00,198.04 L96.25,198.97 L96.50,198.03 L96.75,199.10 L97.00,198.00 L97.25,198.07 L97.50,197.24 L97.75,197.92 L98.00,197.28 L98.25,198.46 L98.50,197.28 L98.75,197.58 L99.00,196.81 L99.25,195.94 L99.50,196.93 L99.75,196.81 L100.00,197.93 L100.25,197.77 L100.50,196.17 L100.75,198.40 L101.00,197.48 L101.25,197.00 L101.50,196.68 L101.75,197.63 L102.00,197.26 L102.25,196.91 L102.50,196.41 L102.75,197.20 L103.00,197.40 L103.25,196.44 L103.50,196.58 L103.75,197.57 L104.00,197.00 L104.25,197.30 L104.50,197.17 L104.75,198.28 L105.00,197.06 L105.25,197.25 L105.50,198.01 L105.75,197.23 L106.00,197.77 L106.25,197.59 L106.50,197.37 L106.75,195.80 L107.00,196.44 L107.25,197.82 L107.50,196.34 L107.75,197.32 L108.00,196.24 L108.25,196.62 L108.50,196.23 L108.75,196.41 L109.00,197.30 L109.25,197.37 L109.50,196.87 L109.75,196.79 L110.00,196.19 L110.25,195.38 L110.50,196.75 L110.75,195.61 L111.00,196.51 L111.25,196.45 L111.50,197.45 L111.75,196.73 L112.00,196.36 L112.25,196.90 L112.50,197.20 L112.75,196.71 L113.00,195.98 L113.25,196.09 L113.50,197.08 L113.75,196.04 L114.00,196.74 L114.25,196.88 L114.50,195.69 L114.75,196.25 L115.00,196.43 L115.25,196.54 L115.50,198.47 L115.75,195.88 L116.00,195.51 L116.25,198.10 L116.50,198.08 L116.75,196.70 L117.00,195.69 L117.25,196.10 L117.50,195.96 L117.75,196.82 L118.00,196.92 L118.25,196.00 L118.50,197.08 L118.75,195.41 L119.00,195.73 L119.25,196.24 L119.50,196.65 L119.75,195.09 L120.00,196.14 L120.25,197.24 L120.50,196.64 L120.75,197.32 L121.00,195.51 L121.25,196.74 L121.50,196.03 L121.75,195.70 L122.00,195.14 L122.25,196.89 L122.50,195.52 L122.75,196.20 L123.00,195.97 L123.25,197.32 L123.50,195.80 L123.75,195.69 L124.00,195.60 L124.25,195.39 L124.50,196.28 L124.75,196.83 L125.00,195.34 L125.25,196.62 L125.50,194.04 L125.75,195.94 L126.00,197.04 L126.25,195.16 L126.50,195.78 L126.75,196.14 L127.00,196.00 L127.25,195.86 L127.50,196.60 L127.75,194.97 L128.00,194.86 L128.25,195.59 L128.50,196.12 L128.75,195.44 L129.00,194.94 L129.25,195.35 L129.50,195.82 L129.75,195.44 L130.00,196.50 L130.25,195.19 L130.50,194.79 L130.75,195.27 L131.00,195.22 L131.25,195.52 L131.50,196.76 L131.75,195.03 L132.00,195.20 L132.25,196.71 L132.50,196.26 L132.75,195.62 L133.00,195.87 L133.25,196.94 L133.50,197.00 L133.75,197.14 L134.00,196.21 L134.25,195.91 L134.50,196.00 L134.75,196.77 L135.00,196.45 L135.25,197.02 L135.50,196.03 L135.75,196.76 L136.00,197.06 L136.25,196.10 L136.50,196.97 L136.75,197.22 L137.00,197.70 L137.25,197.13 L137.50,196.16 L137.75,197.90 L138.00,196.47 L138.25,197.99 L138.50,197.83 L138.75,196.63 L139.00,197.97 L139.25,197.57 L139.50,197.65 L139.75,196.55 L140.00,197.07 L140.25,197.74 L140.50,197.69 L140.75,197.16 L141.00,197.87 L141.25,196.98 L141.50,196.70 L141.75,196.95 L142.00,198.11 L142.25,196.52 L142.50,197.44 L142.75,196.47 L143.00,197.13 L143.25,197.58 L143.50,198.71 L143.75,196.34 L144.00,198.06 L144.25,197.29 L144.50,196.96 L144.75,196.68 L145.00,198.29 L145.25,196.56 L145.50,198.13 L145.75,197.93 L146.00,196.45 L146.25,197.91 L146.50,197.89 L146.75,198.78 L147.00,197.92 L147.25,199.54 L147.50,197.88 L147.75,197.62 L148.00,198.06 L148.25,198.81 L148.50,196.99 L148.75,198.34 L149.00,198.64 L149.25,198.36 L149.50,199.01 L149.75,198.95 L150.00,199.40 L150.25,199.00 L150.50,199.84 L150.75,198.36 L151.00,198.90 L151.25,198.84 L151.50,198.50 L151.75,199.06 L152.00,197.54 L152.25,199.60 L152.50,198.68 L152.75,198.45 L153.00,199.10 L153.25,199.59 L153.50,199.71 L153.75,198.24 L154.00,199.19 L154.25,198.76 L154.50,200.31 L154.75,199.51 L155.00,198.84 L155.25,199.23 L155.50,199.19 L155.75,199.76 L156.00,198.59 L156.25,199.35 L156.50,198.79 L156.75,198.92 L157.00,199.67 L157.25,199.32 L157.50,199.22 L157.75,199.86 L158.00,199.32 L158.25,199.76 L158.50,200.23 L158.75,199.24 L159.00,199.14 L159.25,198.77 L159.50,198.92 L159.75,199.80 L160.00,199.77 L160.25,198.55 L160.50,199.73 L160.75,200.47 L161.00,200.45 L161.25,199.82 L161.50,198.21 L161.75,200.28 L162.00,198.54 L162.25,199.90 L162.50,199.67 L162.75,200.09 L163.00,198.40 L163.25,198.68 L163.50,200.10 L163.75,199.35 L164.00,200.70 L164.25,200.05 L164.50,199.62 L164.75,200.09 L165.00,199.54 L165.25,201.38 L165.50,198.44 L165.75,200.19 L166.00,201.23 L166.25,200.65 L166.50,201.15 L166.75,200.82 L167.00,199.57 L167.25,200.26 L167.50,199.50 L167.75,199.55 L168.00,199.05 L168.25,200.87 L168.50,201.05 L168.75,200.24 L169.00,199.54 L169.25,199.56 L169.50,200.49 L169.75,200.14 L170.00,199.28 L170.25,199.59 L170.50,201.44 L170.75,199.89 L171.00,199.79 L171.25,200.12 L171.50,200.44 L171.75,201.48 L172.00,200.10 L172.25,199.67 L172.50,199.79 L172.75,201.62 L173.00,199.60 L173.25,199.82 L173.50,199.60 L173.75,200.84 L174.00,200.15 L174.25,200.78 L174.50,200.36 L174.75,200.24 L175.00,200.00 L175.25,201.02 L175.50,199.59 L175.75,198.85 L176.00,200.18 L176.25,200.05 L176.50,200.25 L176.75,200.45 L177.00,200.37 L177.25,200.47 L177.50,199.14 L177.75,200.01 L178.00,200.85 L178.25,200.74 L178.50,200.37 L178.75,201.07 L179.00,199.77 L179.25,199.45 L179.50,201.09 L179.75,200.69 L180.00,200.41 L180.25,200.51 L180.50,199.37 L180.75,200.95 L181.00,199.80 L181.25,199.35 L181.50,198.41 L181.75,199.59 L182.00,199.37 L182.25,198.69 L182.50,200.34 L182.75,199.49 L183.00,198.38 L183.25,199.50 L183.50,198.73 L183.75,198.35 L184.00,198.59 L184.25,198.14 L184.50,198.66 L184.75,199.40 L185.00,199.23 L185.25,199.14 L185.50,197.61 L185.75,197.97 L186.00,198.10 L186.25,198.57 L186.50,195.61 L186.75,197.09 L187.00,198.05 L187.25,196.58 L187.50,196.91 L187.75,196.20 L188.00,195.49 L188.25,195.45 L188.50,196.20 L188.75,196.24 L189.00,196.29 L189.25,196.85 L189.50,196.56 L189.75,194.41 L190.00,195.85 L190.25,196.16 L190.50,195.71 L190.75,196.64 L191.00,194.60 L191.25,195.27 L191.50,194.57 L191.75,194.88 L192.00,195.74 L192.25,192.69 L192.50,193.83 L192.75,194.17 L193.00,193.93 L193.25,193.21 L193.50,192.96 L193.75,193.23 L194.00,192.84 L194.25,191.73 L194.50,190.79 L194.75,192.13 L195.00,191.00 L195.25,190.08 L195.50,189.58 L195.75,190.70 L196.00,190.49 L196.25,189.98 L196.50,188.87 L196.75,188.00 L197.00,188.46 L197.25,188.79 L197.50,188.32 L197.75,187.03 L198.00,187.39 L198.25,186.90 L198.50,186.14 L198.75,186.03 L199.00,185.28 L199.25,185.71 L199.50,184.48 L199.75,183.51 L200.00,183.54 L200.25,182.60 L200.50,181.92 L200.75,181.89 L201.00,180.48 L201.25,180.21 L201.50,179.53 L201.75,179.48 L202.00,178.63 L202.25,177.19 L202.50,177.62 L202.75,175.92 L203.00,177.81 L203.25,175.97 L203.50,174.58 L203.75,172.87 L204.00,172.63 L204.25,172.31 L204.50,170.10 L204.75,170.10 L205.00,169.15 L205.25,168.23 L205.50,167.24 L205.75,166.07 L206.00,164.41 L206.25,163.25 L206.50,164.54 L206.75,159.82 L207.00,161.04 L207.25,159.21 L207.50,159.00 L207.75,156.25 L208.00,155.37 L208.25,152.45 L208.50,150.71 L208.75,146.04 L209.00,142.98 L209.25,136.13 L209.50,128.59 L209.75,121.25 L210.00,113.85 L210.25,105.56 L210.50,97.15 L210.75,93.34 L211.00,89.77 L211.25,91.99 L211.50,98.90 L211.75,110.14 L212.00,123.88 L212.25,138.45 L212.50,152.98 L212.75,167.58 L213.00,176.33 L213.25,185.42 L213.50,189.74 L213.75,195.24 L214.00,198.04 L214.25,199.44 L214.50,199.51 L214.75,200.08 L215.00,200.88 L215.25,200.96 L215.50,201.10 L215.75,199.50 L216.00,200.42 L216.25,200.68 L216.50,200.47 L216.75,200.35 L217.00,200.63 L217.25,200.19 L217.50,199.87 L217.75,200.40 L218.00,200.49 L218.25,200.79 L218.50,200.01 L218.75,200.49 L219.00,200.17 L219.25,200.85 L219.50,199.87 L219.75,200.94 L220.00,200.04 L220.25,200.99 L220.50,200.66 L220.75,199.11 L221.00,200.08 L221.25,200.37 L221.50,199.89 L221.75,199.78 L222.00,200.38 L222.25,200.89 L222.50,201.49 L222.75,201.02 L223.00,199.33 L223.25,200.38 L223.50,200.31 L223.75,200.30 L224.00,201.04 L224.25,200.38 L224.50,201.12 L224.75,199.85 L225.00,199.55 L225.25,200.33 L225.50,199.48 L225.75,199.20 L226.00,200.84 L226.25,200.34 L226.50,201.06 L226.75,200.51 L227.00,199.44 L227.25,199.94 L227.50,201.52 L227.75,199.89 L228.00,200.35 L228.25,201.60 L228.50,199.90 L228.75,200.57 L229.00,201.17 L229.25,200.74 L229.50,201.19 L229.75,201.12 L230.00,200.33 L230.25,201.33 L230.50,201.04 L230.75,200.89 L231.00,200.09 L231.25,200.02 L231.50,199.78 L231.75,199.82 L232.00,200.77 L232.25,200.69 L232.50,201.33 L232.75,199.53 L233.00,199.97 L233.25,199.75 L233.50,201.12 L233.75,200.46 L234.00,200.75 L234.25,198.88 L234.50,201.11 L234.75,200.69 L235.00,200.25 L235.25,200.33 L235.50,200.90 L235.75,200.31 L236.00,200.81 L236.25,201.32 L236.50,199.83 L236.75,200.18 L237.00,200.75 L237.25,199.56 L237.50,201.56 L237.75,200.92 L238.00,199.71 L238.25,200.23 L238.50,200.46 L238.75,200.79 L239.00,199.74 L239.25,200.24 L239.50,200.39 L239.75,200.22 L240.00,199.80 L240.25,201.26 L240.50,201.03 L240.75,201.54 L241.00,200.47 L241.25,201.09 L241.50,200.28 L241.75,201.87 L242.00,199.19 L242.25,200.85 L242.50,199.99 L242.75,202.02 L243.00,199.57 L243.25,200.72 L243.50,201.26 L243.75,199.94 L244.00,200.13 L244.25,200.45 L244.50,200.73 L244.75,200.27 L245.00,199.76 L245.25,199.90 L245.50,200.29 L245.75,200.14 L246.00,201.12 L246.25,200.80 L246.50,200.55 L246.75,200.41 L247.00,199.88 L247.25,199.82 L247.50,200.13 L247.75,200.29 L248.00,201.25 L248.25,199.12 L248.50,200.28 L248.75,201.73 L249.00,200.35 L249.25,200.70 L249.50,200.57 L249.75,201.34 L250.00,200.21 L250.25,200.51 L250.50,200.25 L250.75,200.11 L251.00,200.92 L251.25,200.14 L251.50,200.56 L251.75,199.32 L252.00,199.03 L252.25,200.99 L252.50,200.07 L252.75,200.23 L253.00,201.44 L253.25,200.05 L253.50,200.32 L253.75,201.62 L254.00,199.83 L254.25,199.84 L254.50,199.49 L254.75,200.10 L255.00,200.14 L255.25,200.89 L255.50,200.59 L255.75,200.24 L256.00,199.99 L256.25,200.81 L256.50,200.52 L256.75,199.80 L257.00,199.36 L257.25,198.81 L257.50,199.68 L257.75,200.72 L258.00,201.00 L258.25,199.97 L258.50,200.25 L258.75,200.47 L259.00,200.23 L259.25,199.47 L259.50,200.70 L259.75,199.72 L260.00,199.86 L260.25,200.03 L260.50,199.52 L260.75,200.82 L261.00,201.43 L261.25,201.11 L261.50,199.96 L261.75,199.52 L262.00,199.81 L262.25,200.55 L262.50,199.54 L262.75,200.32 L263.00,200.14" fill="none" stroke="#a878e8" stroke-width="1" stroke-linejoin="round"/>
<path d="M67.50,206.90 L67.75,206.74 L68.00,205.13 L68.25,206.85 L68.50,207.46 L68.75,206.34 L69.00,206.44 L69.25,206.10 L69.50,206.77 L69.75,205.59 L70.00,206.14 L70.25,204.89 L70.50,206.16 L70.75,206.36 L71.00,205.61 L71.25,205.96 L71.50,207.02 L71.75,206.00 L72.00,206.95 L72.25,205.73 L72.50,206.90 L72.75,206.29 L73.00,207.03 L73.25,206.31 L73.50,205.63 L73.75,205.78 L74.00,206.94 L74.25,207.39 L74.50,206.07 L74.75,206.97 L75.00,207.02 L75.25,206.08 L75.50,207.32 L75.75,206.01 L76.00,205.83 L76.25,206.51 L76.50,207.11 L76.75,206.67 L77.00,205.56 L77.25,206.40 L77.50,205.72 L77.75,206.49 L78.00,206.44 L78.25,206.40 L78.50,206.44 L78.75,206.33 L79.00,205.97 L79.25,205.75 L79.50,206.62 L79.75,207.13 L80.00,206.95 L80.25,207.12 L80.50,207.83 L80.75,206.52 L81.00,207.01 L81.25,205.34 L81.50,206.87 L81.75,207.42 L82.00,206.25 L82.25,206.51 L82.50,205.94 L82.75,206.39 L83.00,205.28 L83.25,206.93 L83.50,206.33 L83.75,206.77 L84.00,206.79 L84.25,207.54 L84.50,206.07 L84.75,207.53 L85.00,206.22 L85.25,206.16 L85.50,206.19 L85.75,207.46 L86.00,205.91 L86.25,206.88 L86.50,206.17 L86.75,206.66 L87.00,205.15 L87.25,206.77 L87.50,206.54 L87.75,206.21 L88.00,207.33 L88.25,206.69 L88.50,206.52 L88.75,206.21 L89.00,206.59 L89.25,205.21 L89.50,205.11 L89.75,205.55 L90.00,206.35 L90.25,205.92 L90.50,204.98 L90.75,205.17 L91.00,205.87 L91.25,206.64 L91.50,205.55 L91.75,205.78 L92.00,206.22 L92.25,206.36 L92.50,207.13 L92.75,207.21 L93.00,207.07 L93.25,206.05 L93.50,206.10 L93.75,206.69 L94.00,206.38 L94.25,205.31 L94.50,206.98 L94.75,206.48 L95.00,206.98 L95.25,204.92 L95.50,206.44 L95.75,205.27 L96.00,205.69 L96.25,206.59 L96.50,205.76 L96.75,206.03 L97.00,205.84 L97.25,206.02 L97.50,205.74 L97.75,205.76 L98.00,206.63 L98.25,205.64 L98.50,206.63 L98.75,206.96 L99.00,206.37 L99.25,206.69 L99.50,206.54 L99.75,206.81 L100.00,205.56 L100.25,205.54 L100.50,206.51 L100.75,205.24 L101.00,206.15 L101.25,206.57 L101.50,206.74 L101.75,205.82 L102.00,206.15 L102.25,205.92 L102.50,204.19 L102.75,205.48 L103.00,206.13 L103.25,206.77 L103.50,206.34 L103.75,206.52 L104.00,206.47 L104.25,207.59 L104.50,205.98 L104.75,206.78 L105.00,204.65 L105.25,206.22 L105.50,205.46 L105.75,205.83 L106.00,206.55 L106.25,205.91 L106.50,206.32 L106.75,206.29 L107.00,206.07 L107.25,207.30 L107.50,205.14 L107.75,205.66 L108.00,206.12 L108.25,205.12 L108.50,206.64 L108.75,207.63 L109.00,205.83 L109.25,206.55 L109.50,206.03 L109.75,206.34 L110.00,206.12 L110.25,206.61 L110.50,206.00 L110.75,205.48 L111.00,205.71 L111.25,204.82 L111.50,205.54 L111.75,205.65 L112.00,205.77 L112.25,205.55 L112.50,205.99 L112.75,206.72 L113.00,206.57 L113.25,207.03 L113.50,206.02 L113.75,205.79 L114.00,205.55 L114.25,205.11 L114.50,206.12 L114.75,207.19 L115.00,206.25 L115.25,205.82 L115.50,207.01 L115.75,206.58 L116.00,206.49 L116.25,204.47 L116.50,205.05 L116.75,206.20 L117.00,206.04 L117.25,205.66 L117.50,205.55 L117.75,205.57 L118.00,206.44 L118.25,206.31 L118.50,204.79 L118.75,205.68 L119.00,204.99 L119.25,205.65 L119.50,205.47 L119.75,205.44 L120.00,205.78 L120.25,204.83 L120.50,205.05 L120.75,205.62 L121.00,205.47 L121.25,204.54 L121.50,206.17 L121.75,205.01 L122.00,204.81 L122.25,204.51 L122.50,204.58 L122.75,206.02 L123.00,204.97 L123.25,205.72 L123.50,204.95 L123.75,205.37 L124.00,204.90 L124.25,205.89 L124.50,205.35 L124.75,205.11 L125.00,205.10 L125.25,204.86 L125.50,204.26 L125.75,206.03 L126.00,205.38 L126.25,206.49 L126.50,205.02 L126.75,204.39 L127.00,205.29 L127.25,204.65 L127.50,204.10 L127.75,205.13 L128.00,204.82 L128.25,204.79 L128.50,205.88 L128.75,206.18 L129.00,205.66 L129.25,205.96 L129.50,205.02 L129.75,206.86 L130.00,206.74 L130.25,206.62 L130.50,205.31 L130.75,205.62 L131.00,205.58 L131.25,205.71 L131.50,205.80 L131.75,206.00 L132.00,205.38 L132.25,205.66 L132.50,205.34 L132.75,205.59 L133.00,205.50 L133.25,205.54 L133.50,204.26 L133.75,204.27 L134.00,204.88 L134.25,206.84 L134.50,205.25 L134.75,204.75 L135.00,205.37 L135.25,206.66 L135.50,205.90 L135.75,204.02 L136.00,205.85 L136.25,206.69 L136.50,205.88 L136.75,205.13 L137.00,205.73 L137.25,206.54 L137.50,207.21 L137.75,205.69 L138.00,206.91 L138.25,205.22 L138.50,205.08 L138.75,205.61 L139.00,205.86 L139.25,205.94 L139.50,206.02 L139.75,206.35 L140.00,206.48 L140.25,206.49 L140.50,204.86 L140.75,204.70 L141.00,205.84 L141.25,205.51 L141.50,206.07 L141.75,205.77 L142.00,204.99 L142.25,205.22 L142.50,205.21 L142.75,205.40 L143.00,205.33 L143.25,206.32 L143.50,205.39 L143.75,206.97 L144.00,205.74 L144.25,205.65 L144.50,205.60 L144.75,207.13 L145.00,205.28 L145.25,206.69 L145.50,207.49 L145.75,206.00 L146.00,205.97 L146.25,206.98 L146.50,205.73 L146.75,206.03 L147.00,205.97 L147.25,206.77 L147.50,205.45 L147.75,205.90 L148.00,206.11 L148.25,206.71 L148.50,206.44 L148.75,206.16 L149.00,207.16 L149.25,206.51 L149.50,205.18 L149.75,206.09 L150.00,206.02 L150.25,206.27 L150.50,205.49 L150.75,205.38 L151.00,205.87 L151.25,206.31 L151.50,205.58 L151.75,205.44 L152.00,206.16 L152.25,205.72 L152.50,205.69 L152.75,205.49 L153.00,205.96 L153.25,206.44 L153.50,205.98 L153.75,206.31 L154.00,206.08 L154.25,205.14 L154.50,205.52 L154.75,206.06 L155.00,205.83 L155.25,205.71 L155.50,205.81 L155.75,206.34 L156.00,206.36 L156.25,207.47 L156.50,206.07 L156.75,204.84 L157.00,206.57 L157.25,205.11 L157.50,206.62 L157.75,206.39 L158.00,205.36 L158.25,206.74 L158.50,206.44 L158.75,205.34 L159.00,206.23 L159.25,205.58 L159.50,204.48 L159.75,206.73 L160.00,205.31 L160.25,204.90 L160.50,206.11 L160.75,206.18 L161.00,205.57 L161.25,205.68 L161.50,205.13 L161.75,206.96 L162.00,206.14 L162.25,205.46 L162.50,205.77 L162.75,206.37 L163.00,205.67 L163.25,205.80 L163.50,206.76 L163.75,207.40 L164.00,206.18 L164.25,206.33 L164.50,206.13 L164.75,206.00 L165.00,206.85 L165.25,206.70 L165.50,205.57 L165.75,206.78 L166.00,207.11 L166.25,207.04 L166.50,206.04 L166.75,205.14 L167.00,205.69 L167.25,207.37 L167.50,206.40 L167.75,206.87 L168.00,205.93 L168.25,206.31 L168.50,206.61 L168.75,206.95 L169.00,205.69 L169.25,207.47 L169.50,206.79 L169.75,207.25 L170.00,205.88 L170.25,205.62 L170.50,206.21 L170.75,205.90 L171.00,206.50 L171.25,207.45 L171.50,206.42 L171.75,205.23 L172.00,206.81 L172.25,205.91 L172.50,207.42 L172.75,206.12 L173.00,205.61 L173.25,206.26 L173.50,207.61 L173.75,206.37 L174.00,207.00 L174.25,205.83 L174.50,206.22 L174.75,206.47 L175.00,206.23 L175.25,207.10 L175.50,206.56 L175.75,205.91 L176.00,206.14 L176.25,205.18 L176.50,205.89 L176.75,204.80 L177.00,206.86 L177.25,206.39 L177.50,206.15 L177.75,207.13 L178.00,206.03 L178.25,206.52 L178.50,206.33 L178.75,206.40 L179.00,205.98 L179.25,205.63 L179.50,206.42 L179.75,205.72 L180.00,207.14 L180.25,206.61 L180.50,206.81 L180.75,205.75 L181.00,206.02 L181.25,206.54 L181.50,205.93 L181.75,206.06 L182.00,206.86 L182.25,205.17 L182.50,205.97 L182.75,205.44 L183.00,205.18 L183.25,204.49 L183.50,205.81 L183.75,206.18 L184.00,206.35 L184.25,206.08 L184.50,205.55 L184.75,205.95 L185.00,206.23 L185.25,206.74 L185.50,206.19 L185.75,205.18 L186.00,205.49 L186.25,205.71 L186.50,205.02 L186.75,205.30 L187.00,206.72 L187.25,205.29 L187.50,206.29 L187.75,205.37 L188.00,206.36 L188.25,206.12 L188.50,206.92 L188.75,206.16 L189.00,205.43 L189.25,205.58 L189.50,205.00 L189.75,205.59 L190.00,205.03 L190.25,205.08 L190.50,205.09 L190.75,204.78 L191.00,205.57 L191.25,204.24 L191.50,204.55 L191.75,206.57 L192.00,206.30 L192.25,204.59 L192.50,204.42 L192.75,205.12 L193.00,202.98 L193.25,204.65 L193.50,203.74 L193.75,203.31 L194.00,204.41 L194.25,204.75 L194.50,203.93 L194.75,204.16 L195.00,203.01 L195.25,204.25 L195.50,202.55 L195.75,201.56 L196.00,202.94 L196.25,202.97 L196.50,202.21 L196.75,202.35 L197.00,202.79 L197.25,202.95 L197.50,200.72 L197.75,202.28 L198.00,201.42 L198.25,200.93 L198.50,200.58 L198.75,200.58 L199.00,201.21 L199.25,200.13 L199.50,199.78 L199.75,200.67 L200.00,199.18 L200.25,200.49 L200.50,198.90 L200.75,199.39 L201.00,198.94 L201.25,197.48 L201.50,198.42 L201.75,196.84 L202.00,196.06 L202.25,196.92 L202.50,195.68 L202.75,194.31 L203.00,194.87 L203.25,193.87 L203.50,192.78 L203.75,192.22 L204.00,191.01 L204.25,191.54 L204.50,189.04 L204.75,189.03 L205.00,188.74 L205.25,188.50 L205.50,186.08 L205.75,185.52 L206.00,184.77 L206.25,182.57 L206.50,181.29 L206.75,179.97 L207.00,179.86 L207.25,178.20 L207.50,176.71 L207.75,173.89 L208.00,170.63 L208.25,167.76 L208.50,163.81 L208.75,160.50 L209.00,152.99 L209.25,145.31 L209.50,135.07 L209.75,123.72 L210.00,111.96 L210.25,102.24 L210.50,90.65 L210.75,85.07 L211.00,81.41 L211.25,84.82 L211.50,91.28 L211.75,103.94 L212.00,118.67 L212.25,138.04 L212.50,153.48 L212.75,168.73 L213.00,180.84 L213.25,188.26 L213.50,195.66 L213.75,199.86 L214.00,202.82 L214.25,204.80 L214.50,205.74 L214.75,206.96 L215.00,205.79 L215.25,206.01 L215.50,206.66 L215.75,205.38 L216.00,206.44 L216.25,207.10 L216.50,206.21 L216.75,206.06 L217.00,207.34 L217.25,206.22 L217.50,206.01 L217.75,206.72 L218.00,206.00 L218.25,205.82 L218.50,207.47 L218.75,206.07 L219.00,206.96 L219.25,207.22 L219.50,206.37 L219.75,206.92 L220.00,206.46 L220.25,206.93 L220.50,207.34 L220.75,206.43 L221.00,206.84 L221.25,206.62 L221.50,207.04 L221.75,206.41 L222.00,206.65 L222.25,205.88 L222.50,206.91 L222.75,206.31 L223.00,207.12 L223.25,207.89 L223.50,206.16 L223.75,206.67 L224.00,206.46 L224.25,205.89 L224.50,207.35 L224.75,207.08 L225.00,207.17 L225.25,206.93 L225.50,204.92 L225.75,206.55 L226.00,206.38 L226.25,206.99 L226.50,206.52 L226.75,206.71 L227.00,205.60 L227.25,206.86 L227.50,205.94 L227.75,206.84 L228.00,206.66 L228.25,207.01 L228.50,206.18 L228.75,206.72 L229.00,206.02 L229.25,206.51 L229.50,206.94 L229.75,207.22 L230.00,206.20 L230.25,207.44 L230.50,206.25 L230.75,208.03 L231.00,206.26 L231.25,206.42 L231.50,206.62 L231.75,206.21 L232.00,207.50 L232.25,206.86 L232.50,206.23 L232.75,205.86 L233.00,206.54 L233.25,206.42 L233.50,206.58 L233.75,206.04 L234.00,207.18 L234.25,208.09 L234.50,205.87 L234.75,206.23 L235.00,207.41 L235.25,206.34 L235.50,205.59 L235.75,205.26 L236.00,206.67 L236.25,205.71 L236.50,207.22 L236.75,206.09 L237.00,205.89 L237.25,207.14 L237.50,207.39 L237.75,205.22 L238.00,205.82 L238.25,205.10 L238.50,206.76 L238.75,206.96 L239.00,205.27 L239.25,206.65 L239.50,207.69 L239.75,206.60 L240.00,206.11 L240.25,206.25 L240.50,208.05 L240.75,206.33 L241.00,207.89 L241.25,205.09 L241.50,207.42 L241.75,207.02 L242.00,206.47 L242.25,206.87 L242.50,205.79 L242.75,206.95 L243.00,206.28 L243.25,206.29 L243.50,206.29 L243.75,207.32 L244.00,205.41 L244.25,207.09 L244.50,207.17 L244.75,206.74 L245.00,206.41 L245.25,208.29 L245.50,206.81 L245.75,205.82 L246.00,206.40 L246.25,206.41 L246.50,205.97 L246.75,206.31 L247.00,207.48 L247.25,207.39 L247.50,206.54 L247.75,208.18 L248.00,206.58 L248.25,205.29 L248.50,206.80 L248.75,205.98 L249.00,208.60 L249.25,207.11 L249.50,206.75 L249.75,206.49 L250.00,207.09 L250.25,205.93 L250.50,206.69 L250.75,206.87 L251.00,206.62 L251.25,206.16 L251.50,207.17 L251.75,206.59 L252.00,206.86 L252.25,205.85 L252.50,206.52 L252.75,207.42 L253.00,206.60 L253.25,207.18 L253.50,206.25 L253.75,206.68 L254.00,206.28 L254.25,206.41 L254.50,207.10 L254.75,206.47 L255.00,206.51 L255.25,206.46 L255.50,206.49 L255.75,206.75 L256.00,207.66 L256.25,207.75 L256.50,206.55 L256.75,205.69 L257.00,206.03 L257.25,206.99 L257.50,206.39 L257.75,206.62 L258.00,207.53 L258.25,207.02 L258.50,207.73 L258.75,206.49 L259.00,205.33 L259.25,206.68 L259.50,207.50 L259.75,206.41 L260.00,205.93 L260.25,207.18 L260.50,206.12 L260.75,206.41 L261.00,206.78 L261.25,206.74 L261.50,205.62 L261.75,205.11 L262.00,208.44 L262.25,206.56 L262.50,205.96 L262.75,207.48 L263.00,206.94" fill="none" stroke="#45b585" stroke-width="1" stroke-linejoin="round"/>
<path d="M67.50,207.92 L67.75,207.79 L68.00,208.22 L68.25,209.33 L68.50,208.42 L68.75,209.01 L69.00,208.09 L69.25,209.07 L69.50,207.71 L69.75,207.98 L70.00,206.90 L70.25,207.87 L70.50,207.76 L70.75,208.49 L71.00,208.69 L71.25,207.27 L71.50,208.17 L71.75,207.89 L72.00,208.05 L72.25,207.72 L72.50,209.40 L72.75,209.41 L73.00,207.85 L73.25,206.69 L73.50,209.51 L73.75,208.69 L74.00,208.06 L74.25,208.55 L74.50,208.40 L74.75,208.46 L75.00,207.55 L75.25,208.16 L75.50,208.06 L75.75,208.98 L76.00,207.74 L76.25,207.02 L76.50,207.76 L76.75,208.39 L77.00,209.01 L77.25,207.85 L77.50,207.87 L77.75,208.33 L78.00,209.71 L78.25,208.69 L78.50,208.91 L78.75,208.77 L79.00,208.01 L79.25,208.87 L79.50,208.34 L79.75,207.30 L80.00,208.70 L80.25,208.23 L80.50,207.75 L80.75,208.60 L81.00,209.19 L81.25,208.01 L81.50,207.60 L81.75,209.35 L82.00,208.40 L82.25,208.51 L82.50,207.31 L82.75,209.25 L83.00,208.35 L83.25,209.16 L83.50,208.84 L83.75,208.17 L84.00,208.41 L84.25,208.28 L84.50,208.66 L84.75,209.22 L85.00,207.55 L85.25,207.17 L85.50,208.17 L85.75,208.39 L86.00,207.27 L86.25,207.81 L86.50,207.97 L86.75,207.54 L87.00,208.74 L87.25,208.70 L87.50,208.07 L87.75,208.89 L88.00,208.11 L88.25,207.97 L88.50,207.74 L88.75,207.78 L89.00,209.05 L89.25,208.21 L89.50,207.88 L89.75,207.43 L90.00,207.44 L90.25,208.28 L90.50,208.23 L90.75,208.89 L91.00,208.41 L91.25,208.63 L91.50,208.97 L91.75,208.29 L92.00,207.41 L92.25,207.04 L92.50,207.87 L92.75,208.14 L93.00,207.85 L93.25,207.54 L93.50,207.70 L93.75,207.80 L94.00,208.19 L94.25,208.24 L94.50,206.58 L94.75,207.35 L95.00,208.62 L95.25,207.52 L95.50,208.55 L95.75,207.87 L96.00,208.37 L96.25,207.84 L96.50,208.38 L96.75,208.19 L97.00,207.69 L97.25,207.61 L97.50,209.20 L97.75,207.18 L98.00,209.40 L98.25,208.97 L98.50,208.34 L98.75,207.65 L99.00,208.03 L99.25,208.33 L99.50,207.30 L99.75,207.93 L100.00,207.99 L100.25,207.42 L100.50,208.42 L100.75,206.51 L101.00,207.10 L101.25,207.95 L101.50,207.90 L101.75,207.82 L102.00,207.44 L102.25,207.65 L102.50,208.46 L102.75,208.60 L103.00,207.19 L103.25,208.84 L103.50,208.47 L103.75,207.14 L104.00,208.86 L104.25,207.55 L104.50,207.20 L104.75,206.30 L105.00,207.02 L105.25,207.77 L105.50,208.58 L105.75,206.98 L106.00,207.06 L106.25,206.84 L106.50,206.85 L106.75,207.86 L107.00,208.10 L107.25,208.60 L107.50,207.59 L107.75,207.32 L108.00,208.29 L108.25,207.73 L108.50,207.22 L108.75,206.83 L109.00,208.35 L109.25,208.02 L109.50,208.50 L109.75,208.50 L110.00,207.31 L110.25,207.22 L110.50,208.12 L110.75,208.01 L111.00,208.25 L111.25,206.65 L111.50,208.24 L111.75,208.06 L112.00,208.39 L112.25,207.40 L112.50,208.16 L112.75,209.05 L113.00,207.66 L113.25,207.73 L113.50,207.95 L113.75,207.78 L114.00,207.65 L114.25,207.57 L114.50,207.06 L114.75,207.34 L115.00,207.13 L115.25,207.35 L115.50,207.47 L115.75,207.88 L116.00,207.75 L116.25,208.64 L116.50,207.05 L116.75,206.43 L117.00,207.84 L117.25,208.41 L117.50,207.56 L117.75,207.98 L118.00,207.17 L118.25,208.83 L118.50,206.72 L118.75,206.83 L119.00,207.47 L119.25,209.15 L119.50,207.97 L119.75,206.74 L120.00,207.65 L120.25,208.33 L120.50,207.65 L120.75,207.73 L121.00,208.55 L121.25,207.78 L121.50,207.11 L121.75,207.11 L122.00,207.05 L122.25,207.50 L122.50,208.16 L122.75,207.76 L123.00,206.41 L123.25,207.32 L123.50,207.21 L123.75,208.40 L124.00,206.95 L124.25,207.57 L124.50,206.66 L124.75,207.96 L125.00,207.77 L125.25,207.87 L125.50,208.11 L125.75,207.92 L126.00,207.60 L126.25,207.70 L126.50,207.47 L126.75,206.40 L127.00,207.29 L127.25,207.32 L127.50,208.14 L127.75,206.45 L128.00,208.17 L128.25,209.07 L128.50,207.57 L128.75,207.41 L129.00,208.27 L129.25,206.76 L129.50,208.75 L129.75,208.67 L130.00,207.71 L130.25,207.91 L130.50,207.82 L130.75,207.25 L131.00,207.74 L131.25,206.70 L131.50,208.63 L131.75,207.25 L132.00,206.24 L132.25,207.48 L132.50,207.06 L132.75,206.71 L133.00,207.50 L133.25,207.75 L133.50,209.26 L133.75,208.04 L134.00,206.84 L134.25,207.54 L134.50,208.12 L134.75,207.28 L135.00,207.42 L135.25,207.18 L135.50,207.59 L135.75,207.10 L136.00,207.91 L136.25,206.21 L136.50,207.06 L136.75,207.68 L137.00,207.02 L137.25,207.42 L137.50,207.26 L137.75,207.81 L138.00,207.64 L138.25,207.73 L138.50,207.72 L138.75,207.17 L139.00,207.93 L139.25,207.88 L139.50,207.35 L139.75,208.22 L140.00,207.57 L140.25,207.38 L140.50,207.35 L140.75,207.60 L141.00,209.33 L141.25,207.43 L141.50,207.28 L141.75,208.01 L142.00,206.98 L142.25,207.63 L142.50,208.14 L142.75,207.82 L143.00,207.50 L143.25,207.92 L143.50,207.85 L143.75,207.06 L144.00,206.48 L144.25,207.90 L144.50,207.97 L144.75,206.45 L145.00,207.73 L145.25,207.69 L145.50,207.65 L145.75,207.36 L146.00,207.29 L146.25,207.10 L146.50,206.58 L146.75,206.91 L147.00,206.75 L147.25,208.39 L147.50,207.03 L147.75,205.80 L148.00,207.81 L148.25,206.47 L148.50,207.90 L148.75,207.70 L149.00,207.79 L149.25,208.53 L149.50,207.53 L149.75,207.99 L150.00,206.59 L150.25,208.06 L150.50,208.50 L150.75,205.99 L151.00,207.39 L151.25,207.13 L151.50,205.75 L151.75,207.57 L152.00,208.25 L152.25,207.44 L152.50,207.30 L152.75,207.47 L153.00,206.93 L153.25,208.04 L153.50,206.46 L153.75,207.32 L154.00,207.35 L154.25,206.08 L154.50,208.36 L154.75,207.56 L155.00,206.20 L155.25,206.87 L155.50,206.77 L155.75,207.32 L156.00,206.48 L156.25,206.69 L156.50,207.60 L156.75,207.81 L157.00,207.64 L157.25,207.17 L157.50,207.51 L157.75,208.88 L158.00,207.67 L158.25,207.05 L158.50,206.63 L158.75,207.08 L159.00,208.12 L159.25,207.46 L159.50,206.72 L159.75,207.99 L160.00,207.25 L160.25,207.58 L160.50,206.90 L160.75,206.93 L161.00,207.53 L161.25,206.57 L161.50,206.99 L161.75,207.38 L162.00,206.63 L162.25,206.18 L162.50,207.33 L162.75,207.39 L163.00,206.27 L163.25,207.27 L163.50,206.49 L163.75,205.85 L164.00,206.82 L164.25,206.60 L164.50,206.92 L164.75,206.47 L165.00,207.51 L165.25,207.67 L165.50,206.76 L165.75,208.16 L166.00,205.80 L166.25,205.58 L166.50,206.47 L166.75,206.95 L167.00,206.85 L167.25,206.38 L167.50,206.70 L167.75,205.68 L168.00,206.86 L168.25,205.95 L168.50,206.57 L168.75,207.24 L169.00,205.68 L169.25,205.72 L169.50,206.22 L169.75,206.39 L170.00,206.21 L170.25,206.32 L170.50,206.73 L170.75,205.87 L171.00,205.88 L171.25,206.07 L171.50,206.33 L171.75,206.50 L172.00,206.42 L172.25,206.07 L172.50,207.12 L172.75,206.98 L173.00,205.97 L173.25,206.57 L173.50,205.37 L173.75,206.08 L174.00,206.03 L174.25,205.24 L174.50,205.25 L174.75,205.92 L175.00,206.05 L175.25,205.06 L175.50,206.52 L175.75,206.61 L176.00,206.02 L176.25,206.68 L176.50,206.32 L176.75,205.36 L177.00,204.97 L177.25,205.77 L177.50,205.62 L177.75,206.24 L178.00,204.98 L178.25,205.55 L178.50,206.20 L178.75,205.63 L179.00,205.42 L179.25,205.12 L179.50,204.51 L179.75,205.12 L180.00,206.54 L180.25,205.56 L180.50,204.62 L180.75,206.08 L181.00,204.86 L181.25,206.52 L181.50,204.14 L181.75,205.72 L182.00,204.60 L182.25,205.39 L182.50,203.65 L182.75,204.99 L183.00,204.45 L183.25,206.03 L183.50,204.87 L183.75,205.65 L184.00,206.25 L184.25,204.92 L184.50,204.93 L184.75,203.79 L185.00,204.19 L185.25,204.81 L185.50,204.27 L185.75,204.08 L186.00,205.20 L186.25,204.18 L186.50,204.35 L186.75,203.88 L187.00,203.86 L187.25,203.67 L187.50,203.81 L187.75,203.66 L188.00,203.64 L188.25,203.19 L188.50,204.25 L188.75,204.15 L189.00,203.23 L189.25,203.66 L189.50,203.12 L189.75,203.76 L190.00,204.14 L190.25,203.55 L190.50,203.61 L190.75,203.22 L191.00,202.55 L191.25,203.45 L191.50,203.07 L191.75,202.45 L192.00,202.09 L192.25,201.08 L192.50,201.57 L192.75,202.22 L193.00,199.93 L193.25,200.72 L193.50,199.84 L193.75,200.15 L194.00,200.19 L194.25,197.38 L194.50,199.97 L194.75,198.54 L195.00,198.39 L195.25,198.54 L195.50,197.46 L195.75,197.19 L196.00,197.29 L196.25,196.83 L196.50,196.92 L196.75,197.20 L197.00,196.98 L197.25,195.54 L197.50,195.71 L197.75,194.58 L198.00,195.31 L198.25,193.72 L198.50,194.96 L198.75,193.56 L199.00,194.18 L199.25,193.24 L199.50,191.51 L199.75,191.83 L200.00,191.49 L200.25,191.35 L200.50,190.77 L200.75,191.05 L201.00,189.70 L201.25,189.26 L201.50,187.79 L201.75,187.80 L202.00,187.64 L202.25,186.81 L202.50,185.99 L202.75,185.63 L203.00,183.74 L203.25,184.58 L203.50,183.31 L203.75,183.53 L204.00,181.70 L204.25,179.77 L204.50,178.68 L204.75,178.67 L205.00,177.80 L205.25,176.74 L205.50,175.93 L205.75,175.17 L206.00,174.93 L206.25,174.16 L206.50,172.63 L206.75,170.99 L207.00,169.63 L207.25,169.62 L207.50,167.58 L207.75,166.03 L208.00,163.43 L208.25,162.58 L208.50,160.86 L208.75,156.44 L209.00,152.21 L209.25,146.22 L209.50,139.41 L209.75,132.31 L210.00,124.75 L210.25,116.89 L210.50,109.95 L210.75,105.00 L211.00,102.39 L211.25,105.12 L211.50,110.92 L211.75,121.05 L212.00,135.92 L212.25,149.86 L212.50,162.56 L212.75,175.17 L213.00,185.04 L213.25,193.05 L213.50,197.57 L213.75,202.50 L214.00,205.06 L214.25,207.08 L214.50,207.84 L214.75,208.21 L215.00,207.51 L215.25,208.02 L215.50,206.49 L215.75,208.95 L216.00,208.39 L216.25,208.18 L216.50,207.35 L216.75,207.71 L217.00,206.97 L217.25,207.69 L217.50,208.75 L217.75,208.48 L218.00,207.52 L218.25,208.30 L218.50,207.90 L218.75,208.94 L219.00,208.11 L219.25,207.98 L219.50,207.37 L219.75,208.50 L220.00,209.11 L220.25,207.63 L220.50,207.78 L220.75,207.79 L221.00,208.41 L221.25,208.77 L221.50,208.70 L221.75,208.05 L222.00,207.74 L222.25,209.08 L222.50,208.52 L222.75,208.73 L223.00,208.28 L223.25,207.92 L223.50,207.84 L223.75,208.09 L224.00,207.49 L224.25,207.18 L224.50,208.80 L224.75,206.91 L225.00,208.13 L225.25,207.20 L225.50,207.44 L225.75,206.77 L226.00,208.55 L226.25,207.13 L226.50,207.96 L226.75,208.59 L227.00,206.67 L227.25,206.81 L227.50,206.74 L227.75,207.63 L228.00,207.53 L228.25,207.34 L228.50,208.53 L228.75,207.67 L229.00,208.71 L229.25,208.41 L229.50,208.00 L229.75,208.11 L230.00,208.18 L230.25,207.60 L230.50,207.12 L230.75,208.06 L231.00,207.46 L231.25,207.93 L231.50,208.20 L231.75,208.61 L232.00,208.10 L232.25,207.54 L232.50,208.96 L232.75,208.71 L233.00,208.67 L233.25,207.87 L233.50,207.44 L233.75,208.07 L234.00,208.69 L234.25,206.85 L234.50,207.75 L234.75,207.82 L235.00,208.28 L235.25,208.52 L235.50,207.21 L235.75,208.36 L236.00,208.06 L236.25,206.98 L236.50,208.74 L236.75,207.59 L237.00,207.82 L237.25,207.68 L237.50,206.87 L237.75,208.56 L238.00,207.72 L238.25,207.66 L238.50,207.43 L238.75,208.78 L239.00,209.07 L239.25,207.51 L239.50,207.42 L239.75,208.98 L240.00,206.91 L240.25,208.50 L240.50,206.99 L240.75,207.89 L241.00,206.78 L241.25,207.15 L241.50,207.51 L241.75,208.68 L242.00,208.79 L242.25,207.53 L242.50,208.18 L242.75,206.97 L243.00,207.73 L243.25,207.94 L243.50,208.79 L243.75,207.17 L244.00,207.65 L244.25,207.36 L244.50,207.56 L244.75,208.66 L245.00,207.95 L245.25,207.26 L245.50,208.40 L245.75,207.33 L246.00,207.42 L246.25,207.92 L246.50,208.49 L246.75,206.70 L247.00,208.81 L247.25,207.83 L247.50,207.70 L247.75,208.12 L248.00,207.75 L248.25,207.58 L248.50,207.80 L248.75,207.70 L249.00,207.78 L249.25,206.49 L249.50,207.12 L249.75,208.47 L250.00,208.95 L250.25,208.00 L250.50,207.40 L250.75,208.04 L251.00,207.94 L251.25,208.23 L251.50,208.47 L251.75,207.37 L252.00,208.20 L252.25,208.21 L252.50,208.23 L252.75,207.70 L253.00,208.64 L253.25,207.03 L253.50,207.86 L253.75,207.33 L254.00,208.23 L254.25,208.15 L254.50,207.49 L254.75,208.28 L255.00,208.08 L255.25,207.37 L255.50,208.57 L255.75,207.70 L256.00,208.44 L256.25,207.53 L256.50,207.82 L256.75,207.68 L257.00,207.10 L257.25,208.80 L257.50,207.93 L257.75,208.63 L258.00,207.57 L258.25,207.98 L258.50,206.52 L258.75,207.44 L259.00,208.66 L259.25,208.11 L259.50,208.90 L259.75,208.00 L260.00,208.44 L260.25,208.79 L260.50,209.02 L260.75,208.00 L261.00,208.52 L261.25,208.93 L261.50,207.85 L261.75,208.23 L262.00,208.79 L262.25,207.58 L262.50,208.05 L262.75,208.57 L263.00,209.00" fill="none" stroke="#f26565" stroke-width="1" stroke-linejoin="round"/>
<path d="M66.80,215.4 V213.9 M79.12,215.4 V213.9 M91.44,215.4 V213.9 M103.76,215.4 V213.9 M116.07,215.4 V213.9 M128.39,215.4 V213.9 M140.71,215.4 V213.9 M153.03,215.4 V213.9 M165.35,215.4 V213.9 M177.67,215.4 V213.9 M189.99,215.4 V213.9 M202.31,215.4 V213.9 M214.62,215.4 V213.9 M226.94,215.4 V213.9 M239.26,215.4 V213.9 M251.58,215.4 V213.9 M263.90,215.4 V213.9 M66.8,207.90 H68.3 M66.8,185.20 H68.3 M66.8,162.50 H68.3 M66.8,139.80 H68.3 M66.8,117.10 H68.3 M66.8,94.40 H68.3 M66.8,71.70 H68.3 M66.8,49.00 H68.3" stroke="#333" stroke-width="1" fill="none"/>
<rect x="66.8" y="48.7" width="197.10" height="166.70" fill="none" stroke="#555" stroke-width="1.2"/>
<text transform="translate(66.80,227.30)" font-size="9.3" text-anchor="middle" font-family="Liberation Sans, sans-serif" fill="#111" stroke="#111" stroke-width="0.22">440</text>
<text transform="translate(91.44,227.30)" font-size="9.3" text-anchor="middle" font-family="Liberation Sans, sans-serif" fill="#111" stroke="#111" stroke-width="0.22">460</text>
<text transform="translate(116.07,227.30)" font-size="9.3" text-anchor="middle" font-family="Liberation Sans, sans-serif" fill="#111" stroke="#111" stroke-width="0.22">480</text>
<text transform="translate(140.71,227.30)" font-size="9.3" text-anchor="middle" font-family="Liberation Sans, sans-serif" fill="#111" stroke="#111" stroke-width="0.22">500</text>
<text transform="translate(165.35,227.30)" font-size="9.3" text-anchor="middle" font-family="Liberation Sans, sans-serif" fill="#111" stroke="#111" stroke-width="0.22">520</text>
<text transform="translate(189.99,227.30)" font-size="9.3" text-anchor="middle" font-family="Liberation Sans, sans-serif" fill="#111" stroke="#111" stroke-width="0.22">540</text>
<text transform="translate(214.62,227.30)" font-size="9.3" text-anchor="middle" font-family="Liberation Sans, sans-serif" fill="#111" stroke="#111" stroke-width="0.22">560</text>
<text transform="translate(239.26,227.30)" font-size="9.3" text-anchor="middle" font-family="Liberation Sans, sans-serif" fill="#111" stroke="#111" stroke-width="0.22">580</text>
<text transform="translate(263.90,227.30)" font-size="9.3" text-anchor="middle" font-family="Liberation Sans, sans-serif" fill="#111" stroke="#111" stroke-width="0.22">600</text>
<text transform="translate(63.30,211.00) scale(1,1.04)" font-size="9.5" text-anchor="end" font-family="Liberation Sans, sans-serif" fill="#111" stroke="#111" stroke-width="0.22">0.0</text>
<text transform="translate(63.30,188.30) scale(1,1.04)" font-size="9.5" text-anchor="end" font-family="Liberation Sans, sans-serif" fill="#111" stroke="#111" stroke-width="0.22">0.5</text>
<text transform="translate(63.30,165.60) scale(1,1.04)" font-size="9.5" text-anchor="end" font-family="Liberation Sans, sans-serif" fill="#111" stroke="#111" stroke-width="0.22">1.0</text>
<text transform="translate(63.30,142.90) scale(1,1.04)" font-size="9.5" text-anchor="end" font-family="Liberation Sans, sans-serif" fill="#111" stroke="#111" stroke-width="0.22">1.5</text>
<text transform="translate(63.30,120.20) scale(1,1.04)" font-size="9.5" text-anchor="end" font-family="Liberation Sans, sans-serif" fill="#111" stroke="#111" stroke-width="0.22">2.0</text>
<text transform="translate(63.30,97.50) scale(1,1.04)" font-size="9.5" text-anchor="end" font-family="Liberation Sans, sans-serif" fill="#111" stroke="#111" stroke-width="0.22">2.5</text>
<text transform="translate(63.30,74.80) scale(1,1.04)" font-size="9.5" text-anchor="end" font-family="Liberation Sans, sans-serif" fill="#111" stroke="#111" stroke-width="0.22">3.0</text>
<text transform="translate(63.30,52.10) scale(1,1.04)" font-size="9.5" text-anchor="end" font-family="Liberation Sans, sans-serif" fill="#111" stroke="#111" stroke-width="0.22">3.5</text>
<rect x="76.6" y="55.3" width="46.6" height="53" fill="#fff" stroke="#666" stroke-width="0.9"/>
<line x1="78.6" y1="60.80" x2="96" y2="60.80" stroke="#f39090" stroke-width="1.6"/>
<text x="98.4" y="63.90" font-size="8.6" font-family="Liberation Sans, sans-serif" fill="#222">2.8 kV</text>
<line x1="78.6" y1="71.22" x2="96" y2="71.22" stroke="#80d0aa" stroke-width="1.6"/>
<text x="98.4" y="74.32" font-size="8.6" font-family="Liberation Sans, sans-serif" fill="#222">3.4 kV</text>
<line x1="78.6" y1="81.64" x2="96" y2="81.64" stroke="#cfa0f5" stroke-width="1.6"/>
<text x="98.4" y="84.74" font-size="8.6" font-family="Liberation Sans, sans-serif" fill="#222">3.7 kV</text>
<line x1="78.6" y1="92.06" x2="96" y2="92.06" stroke="#e6c070" stroke-width="1.6"/>
<text x="98.4" y="95.16" font-size="8.6" font-family="Liberation Sans, sans-serif" fill="#222">4.0 kV</text>
<line x1="78.6" y1="102.48" x2="96" y2="102.48" stroke="#90e6e6" stroke-width="1.6"/>
<text x="98.4" y="105.58" font-size="8.6" font-family="Liberation Sans, sans-serif" fill="#222">4.3 kV</text>
<text transform="translate(93.60,159.90) scale(1,1.2)" font-size="9.45" font-family="Liberation Sans, sans-serif" fill="#111" stroke="#111" stroke-width="0.22">Continuum emission</text>
<text x="69" y="173" font-size="7.5" font-family="Liberation Sans, sans-serif" fill="#222" font-style="italic">&#955;<tspan font-size="5" dy="1.5" font-style="normal">l1</tspan></text>
<text x="93.4" y="173" font-size="7.5" font-family="Liberation Sans, sans-serif" fill="#222" font-style="italic">&#955;<tspan font-size="5" dy="1.5" font-style="normal">l2</tspan></text>
<text x="253" y="173" font-size="7.5" font-family="Liberation Sans, sans-serif" fill="#222" font-style="italic">&#955;<tspan font-size="5" dy="1.5" font-style="normal">r</tspan></text>
<text transform="translate(163.80,34.90) scale(1,1.07)" font-size="9.85" font-family="Liberation Sans, sans-serif" fill="#111" stroke="#111" stroke-width="0.22">557.7 nm: O(<tspan font-size="6.4" dy="-4.0" dx="0.7">1</tspan><tspan dy="4.0" dx="0.3">S)-O(</tspan><tspan font-size="6.4" dy="-4.0" dx="0.7">1</tspan><tspan dy="4.0" dx="0.3">D)</tspan></text>
<path d="M265,31.7 H287.96 V207.68" stroke="#555" stroke-width="1" stroke-dasharray="2.3,2.55" fill="none"/>
<text transform="translate(366.60,47.30)" font-size="9.9" text-anchor="end" font-family="Liberation Sans, sans-serif" fill="#111" stroke="#111" stroke-width="0.22">772.4 nm</text>
<text transform="translate(369.20,39.00)" font-size="9.8" font-family="Liberation Sans, sans-serif" fill="#111" stroke="#111" stroke-width="0.22">2p<tspan font-size="6.4" dy="2.5">2</tspan><tspan dy="-2.5">-1s</tspan><tspan font-size="6.4" dy="2.5">3</tspan></text>
<path d="M371,44.3 H440.78 V99.74" stroke="#555" stroke-width="1" stroke-dasharray="2.3,2.55" fill="none"/>
<text transform="translate(366.60,67.20)" font-size="9.9" text-anchor="end" font-family="Liberation Sans, sans-serif" fill="#111" stroke="#111" stroke-width="0.22">763.5 nm</text>
<text transform="translate(369.20,58.90)" font-size="9.8" font-family="Liberation Sans, sans-serif" fill="#111" stroke="#111" stroke-width="0.22">2p<tspan font-size="6.4" dy="2.5">6</tspan><tspan dy="-2.5">-1s</tspan><tspan font-size="6.4" dy="2.5">5</tspan></text>
<path d="M371,64.2 H434.45 V90.63" stroke="#555" stroke-width="1" stroke-dasharray="2.3,2.55" fill="none"/>
<text transform="translate(366.60,87.70)" font-size="9.9" text-anchor="end" font-family="Liberation Sans, sans-serif" fill="#111" stroke="#111" stroke-width="0.22">750.4 nm</text>
<text transform="translate(369.20,79.40)" font-size="9.8" font-family="Liberation Sans, sans-serif" fill="#111" stroke="#111" stroke-width="0.22">2p<tspan font-size="6.4" dy="2.5">1</tspan><tspan dy="-2.5">-1s</tspan><tspan font-size="6.4" dy="2.5">2</tspan></text>
<path d="M371,84.7 H425.12 V212.88" stroke="#555" stroke-width="1" stroke-dasharray="2.3,2.55" fill="none"/>
<text transform="translate(366.60,107.70)" font-size="9.9" text-anchor="end" font-family="Liberation Sans, sans-serif" fill="#111" stroke="#111" stroke-width="0.22">738.4 nm</text>
<text transform="translate(369.20,99.40)" font-size="9.8" font-family="Liberation Sans, sans-serif" fill="#111" stroke="#111" stroke-width="0.22">2p<tspan font-size="6.4" dy="2.5">3</tspan><tspan dy="-2.5">-1s</tspan><tspan font-size="6.4" dy="2.5">4</tspan></text>
<path d="M371,104.7 H416.58 V246.69" stroke="#555" stroke-width="1" stroke-dasharray="2.3,2.55" fill="none"/>
<text transform="translate(366.60,128.30)" font-size="9.9" text-anchor="end" font-family="Liberation Sans, sans-serif" fill="#111" stroke="#111" stroke-width="0.22">727.3 nm</text>
<text transform="translate(369.20,120.00)" font-size="9.8" font-family="Liberation Sans, sans-serif" fill="#111" stroke="#111" stroke-width="0.22">2p<tspan font-size="6.4" dy="2.5">2</tspan><tspan dy="-2.5">-1s</tspan><tspan font-size="6.4" dy="2.5">4</tspan></text>
<path d="M371,125.3 H408.68 V232.39" stroke="#555" stroke-width="1" stroke-dasharray="2.3,2.55" fill="none"/>
<text transform="translate(366.60,145.10)" font-size="9.9" text-anchor="end" font-family="Liberation Sans, sans-serif" fill="#111" stroke="#111" stroke-width="0.22">696.5 nm</text>
<text transform="translate(369.20,136.80)" font-size="9.8" font-family="Liberation Sans, sans-serif" fill="#111" stroke="#111" stroke-width="0.22">2p<tspan font-size="6.4" dy="2.5">2</tspan><tspan dy="-2.5">-1s</tspan><tspan font-size="6.4" dy="2.5">5</tspan></text>
<path d="M371,142.1 H386.76 V146.55" stroke="#555" stroke-width="1" stroke-dasharray="2.3,2.55" fill="none"/>
<text transform="translate(599.60,84.80) scale(1,1.07)" font-size="9.75" text-anchor="end" font-family="Liberation Sans, sans-serif" fill="#111" stroke="#111" stroke-width="0.22">777.4 nm</text>
<path d="M551.5,80.9 H444.34 V262.30" stroke="#555" stroke-width="1" stroke-dasharray="2.3,2.55" fill="none"/>
<text transform="translate(599.60,106.90) scale(1,1.07)" font-size="9.75" text-anchor="end" font-family="Liberation Sans, sans-serif" fill="#111" stroke="#111" stroke-width="0.22">800.6 nm</text>
<path d="M551.5,103.0 H460.86 V229.79" stroke="#555" stroke-width="1" stroke-dasharray="2.3,2.55" fill="none"/>
<text transform="translate(599.60,126.60) scale(1,1.07)" font-size="9.75" text-anchor="end" font-family="Liberation Sans, sans-serif" fill="#111" stroke="#111" stroke-width="0.22">811.5 nm</text>
<path d="M551.5,122.7 H468.62 V221.98" stroke="#555" stroke-width="1" stroke-dasharray="2.3,2.55" fill="none"/>
<text transform="translate(599.60,146.70) scale(1,1.07)" font-size="9.75" text-anchor="end" font-family="Liberation Sans, sans-serif" fill="#111" stroke="#111" stroke-width="0.22">826.5 nm</text>
<path d="M551.5,142.8 H479.29 V166.06" stroke="#555" stroke-width="1" stroke-dasharray="2.3,2.55" fill="none"/>
<text transform="translate(599.60,167.20) scale(1,1.07)" font-size="9.75" text-anchor="end" font-family="Liberation Sans, sans-serif" fill="#111" stroke="#111" stroke-width="0.22">842.5 nm</text>
<path d="M551.5,163.3 H490.68 V238.37" stroke="#555" stroke-width="1" stroke-dasharray="2.3,2.55" fill="none"/>
<text transform="translate(599.60,188.30) scale(1,1.07)" font-size="9.75" text-anchor="end" font-family="Liberation Sans, sans-serif" fill="#111" stroke="#111" stroke-width="0.22">912.3 nm</text>
<path d="M551.5,184.4 H540.37 V207.68" stroke="#555" stroke-width="1" stroke-dasharray="2.3,2.55" fill="none"/>
<text transform="translate(514.70,96.90) scale(1,1.07)" font-size="9.7" font-family="Liberation Sans, sans-serif" fill="#111" stroke="#111" stroke-width="0.22">2p<tspan font-size="6.2" dy="2.5">8</tspan><tspan dy="-2.5">-1s</tspan><tspan font-size="6.2" dy="2.5">4</tspan></text>
<text transform="translate(514.70,116.20) scale(1,1.07)" font-size="9.7" font-family="Liberation Sans, sans-serif" fill="#111" stroke="#111" stroke-width="0.22">2p<tspan font-size="6.2" dy="2.5">9</tspan><tspan dy="-2.5">-1s</tspan><tspan font-size="6.2" dy="2.5">5</tspan></text>
<text transform="translate(514.70,136.30) scale(1,1.07)" font-size="9.7" font-family="Liberation Sans, sans-serif" fill="#111" stroke="#111" stroke-width="0.22">2p<tspan font-size="6.2" dy="2.5">2</tspan><tspan dy="-2.5">-1s</tspan><tspan font-size="6.2" dy="2.5">2</tspan></text>
<text transform="translate(514.70,156.20) scale(1,1.07)" font-size="9.7" font-family="Liberation Sans, sans-serif" fill="#111" stroke="#111" stroke-width="0.22">2p<tspan font-size="6.2" dy="2.5">8</tspan><tspan dy="-2.5">-1s</tspan><tspan font-size="6.2" dy="2.5">4</tspan></text>
<text transform="translate(513.00,176.30) scale(1,1.07)" font-size="9.7" font-family="Liberation Sans, sans-serif" fill="#111" stroke="#111" stroke-width="0.22">2p<tspan font-size="6.2" dy="2.5">10</tspan><tspan dy="-2.5">-1s</tspan><tspan font-size="6.2" dy="2.5">5</tspan></text>
<text transform="translate(504.00,75.70) scale(1,1.07)" font-size="9.8" font-family="Liberation Sans, sans-serif" fill="#111" stroke="#111" stroke-width="0.22">O(<tspan font-size="6.2" dy="-4.6" dx="0.3">5</tspan><tspan dy="4.6" dx="0.2">P)-O(</tspan><tspan font-size="6.2" dy="-4.6" dx="0.3">5</tspan><tspan dy="4.6" dx="0.2">S)</tspan></text>
<path d="M373.1,27.5 L388.3,21 H508.2 L527.7,27.8" stroke="#222" stroke-width="1" fill="none"/>
<text transform="translate(449.00,16.20) scale(1,1.07)" font-size="10.0" text-anchor="middle" font-family="Liberation Sans, sans-serif" fill="#111" stroke="#111" stroke-width="0.22">Ar I</text>
<text transform="translate(82.9,248.8) scale(0.92,1)" font-size="8.9" font-family="Liberation Serif, serif" fill="#111" stroke="#111" stroke-width="0.3">OH</text>
<path d="M98.3,251.5 L105.6,261.6" stroke="#111" stroke-width="0.9" fill="none"/>
<path d="M106.6,262.8 L102.6,260.6 L105.1,258.6 Z" fill="#111"/>
<text transform="translate(113.9,250.3) scale(0.84,1)" font-size="9.6" font-family="Liberation Serif, serif" fill="#111" stroke="#111" stroke-width="0.25">N</text>
<text transform="translate(120.2,251.6) scale(0.84,1)" font-size="5.8" font-family="Liberation Serif, serif" fill="#111" stroke="#111" stroke-width="0.25">2</text>
<text transform="translate(123.6,250.3) scale(0.84,1)" font-size="9.6" font-family="Liberation Serif, serif" fill="#111" stroke="#111" stroke-width="0.25">(</text>
<text transform="translate(126.5,250.3) scale(0.84,1)" font-size="9.6" font-family="Liberation Serif, serif" fill="#111" stroke="#111" stroke-width="0.25">C</text>
<text transform="translate(133.4,247.1) scale(0.84,1)" font-size="5.8" font-family="Liberation Serif, serif" fill="#111" stroke="#111" stroke-width="0.25">3</text>
<text transform="translate(136.3,250.3) scale(0.84,1)" font-size="9.6" font-family="Liberation Serif, serif" fill="#111" stroke="#111" stroke-width="0.25">&#928;</text>
<text transform="translate(143.2,251.6) scale(0.84,1)" font-size="5.8" font-family="Liberation Serif, serif" fill="#111" stroke="#111" stroke-width="0.25">u</text>
<text transform="translate(148.5,250.3) scale(0.84,1)" font-size="9.6" font-family="Liberation Serif, serif" fill="#111" stroke="#111" stroke-width="0.25">-</text>
<text transform="translate(152.5,250.3) scale(0.84,1)" font-size="9.6" font-family="Liberation Serif, serif" fill="#111" stroke="#111" stroke-width="0.25">B</text>
<text transform="translate(158.7,247.1) scale(0.84,1)" font-size="5.8" font-family="Liberation Serif, serif" fill="#111" stroke="#111" stroke-width="0.25">3</text>
<text transform="translate(162.5,250.3) scale(0.84,1)" font-size="9.6" font-family="Liberation Serif, serif" fill="#111" stroke="#111" stroke-width="0.25">&#928;</text>
<text transform="translate(170.0,251.6) scale(0.84,1)" font-size="5.8" font-family="Liberation Serif, serif" fill="#111" stroke="#111" stroke-width="0.25">g</text>
<text transform="translate(178.0,250.3) scale(0.84,1)" font-size="9.6" font-family="Liberation Serif, serif" fill="#111" stroke="#111" stroke-width="0.25">)</text>
<path d="M120.7,265.1 L126.5,256 H160.6 L166.4,263.8" stroke="#222" stroke-width="1" fill="none"/>
<ellipse cx="266.1" cy="261.2" rx="64.6" ry="9.8" fill="none" stroke="#111" stroke-width="1.35" stroke-dasharray="1.3,3.15"/>
<path d="M237.8,235.9 L245.7,242.1 L247.4,246.9 L240.4,243.8 L236,249.1 L233.8,244.3 Z" fill="none" stroke="#111" stroke-width="1.1" stroke-linejoin="round"/>
</svg>
</body></html>
